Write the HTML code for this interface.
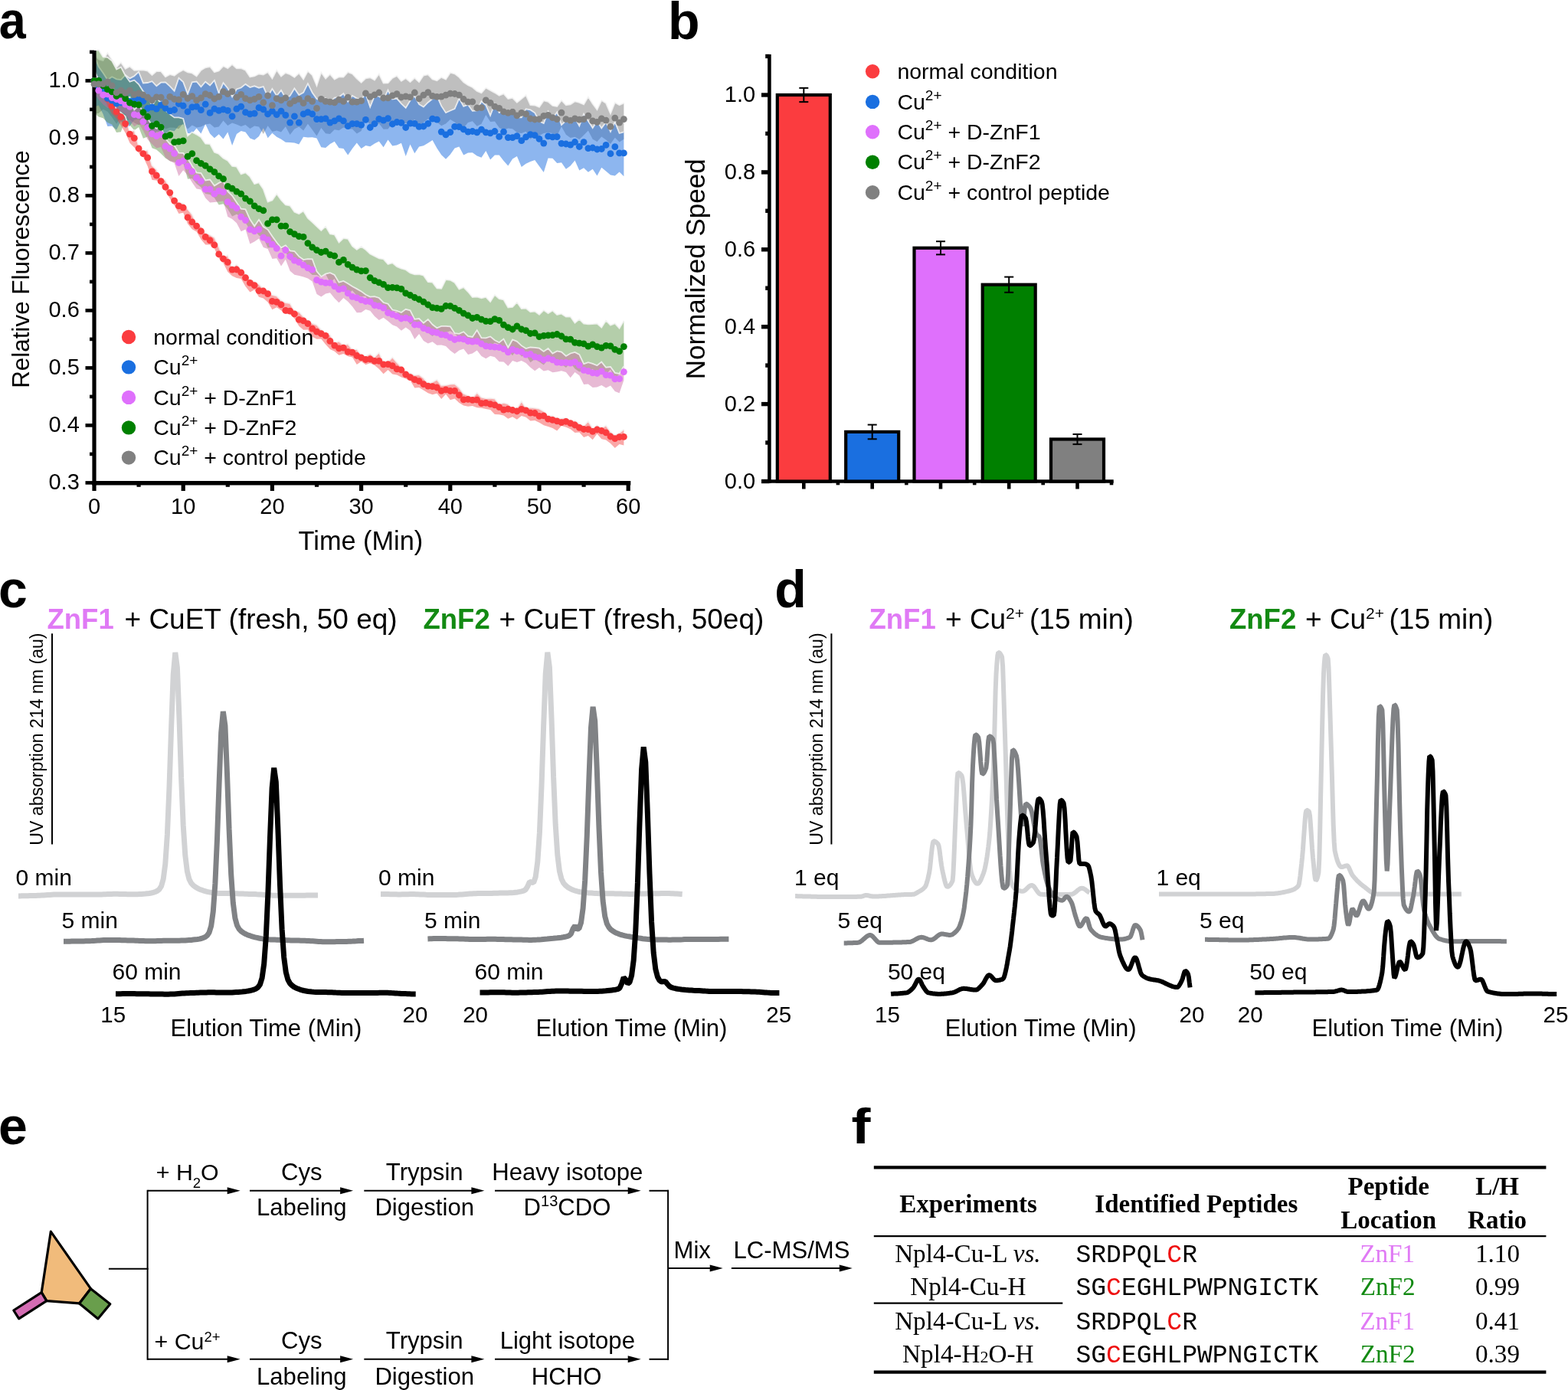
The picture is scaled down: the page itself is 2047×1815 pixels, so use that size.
<!DOCTYPE html>
<html><head><meta charset="utf-8"><title>Figure</title>
<style>html,body{margin:0;padding:0;background:#fff;overflow:hidden}svg{display:block}</style></head>
<body><svg width="2047" height="1815" viewBox="0 0 2047 1815">
<rect width="2047" height="1815" fill="#fff"/>
<text x="-1.3" y="50.4" font-size="68" text-anchor="start" font-weight="bold" fill="#000" font-family="'Liberation Sans', Arial, Helvetica, sans-serif" textLength="35" lengthAdjust="spacingAndGlyphs">a</text>
<text x="872" y="50.6" font-size="68" text-anchor="start" font-weight="bold" fill="#000" font-family="'Liberation Sans', Arial, Helvetica, sans-serif" >b</text>
<text x="-2" y="792.6" font-size="68" text-anchor="start" font-weight="bold" fill="#000" font-family="'Liberation Sans', Arial, Helvetica, sans-serif" >c</text>
<text x="1011.2" y="792.6" font-size="68" text-anchor="start" font-weight="bold" fill="#000" font-family="'Liberation Sans', Arial, Helvetica, sans-serif" >d</text>
<text x="-2" y="1494.4" font-size="68" text-anchor="start" font-weight="bold" fill="#000" font-family="'Liberation Sans', Arial, Helvetica, sans-serif" >e</text>
<text x="1111.5" y="1492.8" font-size="64" text-anchor="start" font-weight="bold" fill="#000" font-family="'Liberation Sans', Arial, Helvetica, sans-serif" textLength="25" lengthAdjust="spacingAndGlyphs">f</text>
<g>
<polygon points="123,71.8 128.8,77.4 134.6,79.2 140.4,68.9 146.2,78 152.1,87.7 157.9,81.5 163.7,89.8 169.5,86.7 175.3,91.8 181.1,91.6 186.9,91.4 192.7,92.6 198.5,98 204.3,93.1 210.1,93.2 216,100.4 221.8,97.1 227.6,98.7 233.4,94.4 239.2,91.2 245,94.3 250.8,95.4 256.6,99.5 262.4,91.7 268.2,88.3 274.1,87 279.9,94.3 285.7,92.5 291.5,86.3 297.3,89.1 303.1,84.1 308.9,89.4 314.7,89.1 320.5,91.8 326.4,100.6 332.2,99.5 338,96.5 343.8,97.6 349.6,94.3 355.4,102.5 361.2,91.5 367,99.7 372.8,95.1 378.6,97.2 384.4,100.9 390.3,95.5 396.1,103.6 401.9,92.9 407.7,98.2 413.5,112 419.3,94.5 425.1,102.6 430.9,96.8 436.7,103.7 442.5,100.5 448.4,100.7 454.2,94.1 460,96.5 465.8,102.6 471.6,107.8 477.4,102.3 483.2,101.3 489,104.5 494.8,96.5 500.6,108.5 506.5,108.4 512.3,102 518.1,98.9 523.9,105.9 529.7,102.3 535.5,107.1 541.3,101.8 547.1,107.2 552.9,98.6 558.8,97.3 564.6,103.5 570.4,105.3 576.2,100.9 582,103.7 587.8,94.9 593.6,96.4 599.4,100.9 605.2,107.2 611,111.2 616.8,114 622.7,118.9 628.5,121.3 634.3,114.7 640.1,117.9 645.9,121.1 651.7,124.8 657.5,122.3 663.3,129.1 669.1,127.8 674.9,133.7 680.8,129.1 686.6,124.3 692.4,137.1 698.2,137.5 704,139.9 709.8,131.4 715.6,132.8 721.4,137.9 727.2,139.1 733,131 738.9,137.2 744.7,136.3 750.5,132.4 756.3,133.9 762.1,136.4 767.9,126.5 773.7,135.6 779.5,143.3 785.3,131 791.1,134.8 797,148.4 802.8,133.9 808.6,137.2 814.4,134.6 814.4,181.7 808.6,185.6 802.8,179.7 797,188.1 791.1,182.5 785.3,178.4 779.5,185 773.7,181.7 767.9,170.5 762.1,176.6 756.3,182 750.5,178.8 744.7,180.1 738.9,175.7 733,165.3 727.2,177.2 721.4,174.1 715.6,172.9 709.8,173.9 704,177.1 698.2,177.2 692.4,181.7 686.6,171.7 680.8,173.9 674.9,172.9 669.1,168.3 663.3,167.6 657.5,169.9 651.7,166.8 645.9,158.6 640.1,159 634.3,150.1 628.5,161.8 622.7,164.7 616.8,158.3 611,160 605.2,167.1 599.4,164.7 593.6,159.4 587.8,156.1 582,161.4 576.2,164.2 570.4,159.5 564.6,158.5 558.8,155.2 552.9,159.8 547.1,164.6 541.3,155.8 535.5,161.3 529.7,160.9 523.9,161.2 518.1,163.9 512.3,160.8 506.5,168.5 500.6,168.7 494.8,161.2 489,165.4 483.2,163.1 477.4,155.4 471.6,171 465.8,174.4 460,168.5 454.2,168.4 448.4,166.6 442.5,170.2 436.7,169.3 430.9,174.9 425.1,174.3 419.3,167 413.5,177.4 407.7,169.4 401.9,161.8 396.1,170.5 390.3,165.5 384.4,168.5 378.6,175.9 372.8,165.3 367,172.5 361.2,170.4 355.4,171.9 349.6,164.3 343.8,175 338,165.4 332.2,164.6 326.4,167.9 320.5,162.9 314.7,164.9 308.9,162.5 303.1,160.5 297.3,164.1 291.5,157.4 285.7,165.6 279.9,166.6 274.1,161.5 268.2,162.5 262.4,165.5 256.6,166.4 250.8,163.6 245,168.6 239.2,161.1 233.4,168.2 227.6,166.7 221.8,166.6 216,168.3 210.1,160.3 204.3,164.6 198.5,172.3 192.7,168.3 186.9,161 181.1,163.2 175.3,160.2 169.5,156.4 163.7,157 157.9,153 152.1,161.7 146.2,153.3 140.4,145.7 134.6,142.7 128.8,147.7 123,148.8" fill="#808080" fill-opacity="0.5"/>
<polyline points="123,71.8 128.8,77.4 134.6,79.2 140.4,68.9 146.2,78 152.1,87.7 157.9,81.5 163.7,89.8 169.5,86.7 175.3,91.8 181.1,91.6 186.9,91.4 192.7,92.6 198.5,98 204.3,93.1 210.1,93.2 216,100.4 221.8,97.1 227.6,98.7 233.4,94.4 239.2,91.2 245,94.3 250.8,95.4 256.6,99.5 262.4,91.7 268.2,88.3 274.1,87 279.9,94.3 285.7,92.5 291.5,86.3 297.3,89.1 303.1,84.1 308.9,89.4 314.7,89.1 320.5,91.8 326.4,100.6 332.2,99.5 338,96.5 343.8,97.6 349.6,94.3 355.4,102.5 361.2,91.5 367,99.7 372.8,95.1 378.6,97.2 384.4,100.9 390.3,95.5 396.1,103.6 401.9,92.9 407.7,98.2 413.5,112 419.3,94.5 425.1,102.6 430.9,96.8 436.7,103.7 442.5,100.5 448.4,100.7 454.2,94.1 460,96.5 465.8,102.6 471.6,107.8 477.4,102.3 483.2,101.3 489,104.5 494.8,96.5 500.6,108.5 506.5,108.4 512.3,102 518.1,98.9 523.9,105.9 529.7,102.3 535.5,107.1 541.3,101.8 547.1,107.2 552.9,98.6 558.8,97.3 564.6,103.5 570.4,105.3 576.2,100.9 582,103.7 587.8,94.9 593.6,96.4 599.4,100.9 605.2,107.2 611,111.2 616.8,114 622.7,118.9 628.5,121.3 634.3,114.7 640.1,117.9 645.9,121.1 651.7,124.8 657.5,122.3 663.3,129.1 669.1,127.8 674.9,133.7 680.8,129.1 686.6,124.3 692.4,137.1 698.2,137.5 704,139.9 709.8,131.4 715.6,132.8 721.4,137.9 727.2,139.1 733,131 738.9,137.2 744.7,136.3 750.5,132.4 756.3,133.9 762.1,136.4 767.9,126.5 773.7,135.6 779.5,143.3 785.3,131 791.1,134.8 797,148.4 802.8,133.9 808.6,137.2 814.4,134.6" fill="none" stroke="#f4f4f4" stroke-opacity="0.85" stroke-width="1.8"/>
<polygon points="123,72.7 128.8,87 134.6,95.2 140.4,104.3 146.2,100.3 152.1,103.3 157.9,104.1 163.7,97.9 169.5,102.4 175.3,99.2 181.1,93.9 186.9,108.5 192.7,108 198.5,106.2 204.3,112.3 210.1,107.7 216,107.4 221.8,112.7 227.6,118.8 233.4,101.8 239.2,107.1 245,122.5 250.8,107.3 256.6,106.5 262.4,113.4 268.2,106.7 274.1,111.5 279.9,105 285.7,121.6 291.5,108.1 297.3,115.2 303.1,126.3 308.9,116.5 314.7,114.5 320.5,109.9 326.4,114.1 332.2,112.3 338,114.7 343.8,113.1 349.6,126.3 355.4,115.9 361.2,125 367,117.9 372.8,127.9 378.6,125.1 384.4,115.5 390.3,124.1 396.1,120.8 401.9,109.2 407.7,121 413.5,129 419.3,131.6 425.1,128.1 430.9,133.9 436.7,127.7 442.5,126.8 448.4,122.1 454.2,132.7 460,125 465.8,128.4 471.6,129.7 477.4,122.6 483.2,139.7 489,125.2 494.8,125.7 500.6,130.2 506.5,117.5 512.3,129.6 518.1,128.6 523.9,135.4 529.7,140.9 535.5,131.2 541.3,125.3 547.1,136.2 552.9,139.6 558.8,133.7 564.6,129.1 570.4,125.2 576.2,138.4 582,147.2 587.8,144.5 593.6,142 599.4,128.6 605.2,138.9 611,136.7 616.8,144.9 622.7,144.4 628.5,132.3 634.3,137.2 640.1,150.8 645.9,135.5 651.7,147.1 657.5,143.8 663.3,144.8 669.1,142.7 674.9,153.4 680.8,153.4 686.6,142.3 692.4,143.4 698.2,147.3 704,158.3 709.8,161.1 715.6,145.6 721.4,154.5 727.2,146.5 733,163.1 738.9,157.7 744.7,160.9 750.5,153.9 756.3,164.4 762.1,148.8 767.9,157.9 773.7,167 779.5,158.1 785.3,167.4 791.1,159.4 797,171.8 802.8,159.1 808.6,174 814.4,172.3 814.4,230.2 808.6,224.4 802.8,229.5 797,228.5 791.1,223.5 785.3,218.8 779.5,229.6 773.7,220.7 767.9,224.8 762.1,219.3 756.3,222.4 750.5,209.6 744.7,216.6 738.9,220.8 733,212.3 727.2,213 721.4,206.7 715.6,206.4 709.8,224.9 704,217.1 698.2,208.9 692.4,211.1 686.6,213.7 680.8,217.9 674.9,203.9 669.1,207.5 663.3,216.5 657.5,210.1 651.7,202.4 645.9,202.6 640.1,208.5 634.3,197.1 628.5,205.8 622.7,203.6 616.8,199.2 611,199.4 605.2,202.4 599.4,191.5 593.6,193.6 587.8,201.7 582,207.8 576.2,202.3 570.4,193.5 564.6,183.1 558.8,186.7 552.9,190.3 547.1,191.5 541.3,200.3 535.5,188.4 529.7,204.1 523.9,186.8 518.1,189.4 512.3,190.5 506.5,182.5 500.6,192.3 494.8,184.5 489,187.6 483.2,191.2 477.4,190.1 471.6,193.9 465.8,186.4 460,193.9 454.2,202.4 448.4,194.1 442.5,193.2 436.7,184.7 430.9,188.1 425.1,192.9 419.3,192.2 413.5,180.4 407.7,179.3 401.9,179.5 396.1,178.8 390.3,188.5 384.4,186.6 378.6,186 372.8,185.7 367,181.8 361.2,178.8 355.4,173.7 349.6,180.3 343.8,167.3 338,178.1 332.2,182.7 326.4,180.5 320.5,172.6 314.7,171 308.9,174.9 303.1,190.1 297.3,172.4 291.5,181.4 285.7,175.3 279.9,180.2 274.1,174.4 268.2,161.9 262.4,174.6 256.6,167.5 250.8,174.3 245,173.9 239.2,162.3 233.4,164 227.6,171.3 221.8,170 216,174.7 210.1,171.7 204.3,171.9 198.5,178.5 192.7,168.6 186.9,160.1 181.1,155.2 175.3,156.6 169.5,164.4 163.7,167.6 157.9,157.9 152.1,169.4 146.2,164.6 140.4,164.9 134.6,149.1 128.8,137.4 123,139.8" fill="#1c6ee0" fill-opacity="0.5"/>
<polyline points="123,72.7 128.8,87 134.6,95.2 140.4,104.3 146.2,100.3 152.1,103.3 157.9,104.1 163.7,97.9 169.5,102.4 175.3,99.2 181.1,93.9 186.9,108.5 192.7,108 198.5,106.2 204.3,112.3 210.1,107.7 216,107.4 221.8,112.7 227.6,118.8 233.4,101.8 239.2,107.1 245,122.5 250.8,107.3 256.6,106.5 262.4,113.4 268.2,106.7 274.1,111.5 279.9,105 285.7,121.6 291.5,108.1 297.3,115.2 303.1,126.3 308.9,116.5 314.7,114.5 320.5,109.9 326.4,114.1 332.2,112.3 338,114.7 343.8,113.1 349.6,126.3 355.4,115.9 361.2,125 367,117.9 372.8,127.9 378.6,125.1 384.4,115.5 390.3,124.1 396.1,120.8 401.9,109.2 407.7,121 413.5,129 419.3,131.6 425.1,128.1 430.9,133.9 436.7,127.7 442.5,126.8 448.4,122.1 454.2,132.7 460,125 465.8,128.4 471.6,129.7 477.4,122.6 483.2,139.7 489,125.2 494.8,125.7 500.6,130.2 506.5,117.5 512.3,129.6 518.1,128.6 523.9,135.4 529.7,140.9 535.5,131.2 541.3,125.3 547.1,136.2 552.9,139.6 558.8,133.7 564.6,129.1 570.4,125.2 576.2,138.4 582,147.2 587.8,144.5 593.6,142 599.4,128.6 605.2,138.9 611,136.7 616.8,144.9 622.7,144.4 628.5,132.3 634.3,137.2 640.1,150.8 645.9,135.5 651.7,147.1 657.5,143.8 663.3,144.8 669.1,142.7 674.9,153.4 680.8,153.4 686.6,142.3 692.4,143.4 698.2,147.3 704,158.3 709.8,161.1 715.6,145.6 721.4,154.5 727.2,146.5 733,163.1 738.9,157.7 744.7,160.9 750.5,153.9 756.3,164.4 762.1,148.8 767.9,157.9 773.7,167 779.5,158.1 785.3,167.4 791.1,159.4 797,171.8 802.8,159.1 808.6,174 814.4,172.3" fill="none" stroke="#f4f4f4" stroke-opacity="0.85" stroke-width="1.8"/>
<polygon points="123,66.3 128.8,65.2 134.6,74.3 140.4,74.9 146.2,79.5 152.1,90.5 157.9,87.6 163.7,98.7 169.5,106.7 175.3,104.7 181.1,110.1 186.9,119.2 192.7,125.7 198.5,138.2 204.3,128.4 210.1,134.1 216,144.2 221.8,149.1 227.6,153.4 233.4,153.3 239.2,155 245,177.4 250.8,172.6 256.6,175.6 262.4,179.2 268.2,187.7 274.1,188 279.9,198.7 285.7,201 291.5,206.4 297.3,209.8 303.1,216.9 308.9,217.7 314.7,227.3 320.5,225.4 326.4,230.7 332.2,240.3 338,238.5 343.8,247 349.6,263.6 355.4,261.4 361.2,253.2 367,261.2 372.8,267.5 378.6,268.5 384.4,276.7 390.3,279.3 396.1,275.5 401.9,284.9 407.7,290 413.5,295.7 419.3,301.1 425.1,295.6 430.9,305.4 436.7,306.4 442.5,316.6 448.4,311 454.2,311.9 460,321.3 465.8,325.8 471.6,321.9 477.4,326 483.2,331.6 489,334.4 494.8,337.4 500.6,338.3 506.5,345 512.3,343.3 518.1,348.1 523.9,350.6 529.7,352.2 535.5,356.4 541.3,358.4 547.1,358.2 552.9,359.7 558.8,368.2 564.6,368.6 570.4,376.4 576.2,376.8 582,365.2 587.8,365.8 593.6,369 599.4,377.6 605.2,375.1 611,381 616.8,388.1 622.7,387.6 628.5,389.3 634.3,387.9 640.1,394 645.9,385 651.7,390.1 657.5,391.5 663.3,401.6 669.1,401 674.9,394.7 680.8,403 686.6,402.5 692.4,407.2 698.2,406.5 704,410.8 709.8,405.1 715.6,409.1 721.4,405.6 727.2,411 733,409.7 738.9,413.7 744.7,413.6 750.5,421.7 756.3,416.9 762.1,422.6 767.9,423.4 773.7,423.1 779.5,422.5 785.3,427.7 791.1,418.6 797,424.6 802.8,422.3 808.6,428.8 814.4,418.8 814.4,485.4 808.6,488.4 802.8,494.3 797,482.3 791.1,489.3 785.3,487.8 779.5,490.2 773.7,481.7 767.9,486 762.1,483.7 756.3,485.6 750.5,481.5 744.7,473.9 738.9,480.1 733,475.6 727.2,473.9 721.4,468.7 715.6,468.9 709.8,476.6 704,472.5 698.2,469.1 692.4,473.3 686.6,463.4 680.8,465.5 674.9,456 669.1,464.2 663.3,457.8 657.5,458.3 651.7,449.5 645.9,447.6 640.1,451.8 634.3,450.4 628.5,451.7 622.7,445.5 616.8,448.1 611,446.7 605.2,439.4 599.4,441.6 593.6,435.6 587.8,432.3 582,434 576.2,434.3 570.4,434.2 564.6,439.1 558.8,434.6 552.9,424.3 547.1,426.1 541.3,419.8 535.5,423.7 529.7,415.1 523.9,414.6 518.1,407.3 512.3,406.4 506.5,408.3 500.6,403.3 494.8,399.2 489,403.5 483.2,398 477.4,386.7 471.6,387.1 465.8,385.9 460,379.2 454.2,383.5 448.4,377.5 442.5,376.6 436.7,364 430.9,368.7 425.1,358.1 419.3,362 413.5,358.9 407.7,359.1 401.9,353.5 396.1,340.3 390.3,342.3 384.4,337.2 378.6,340.5 372.8,328.7 367,324.6 361.2,321.9 355.4,323 349.6,323.6 343.8,310.6 338,307.5 332.2,300.6 326.4,300.2 320.5,290.7 314.7,283 308.9,279.8 303.1,282.6 297.3,272.9 291.5,266.2 285.7,267.4 279.9,258.2 274.1,254 268.2,253 262.4,244.5 256.6,240 250.8,233.1 245,233.7 239.2,212.4 233.4,213.7 227.6,211.4 221.8,210.2 216,206.5 210.1,200.6 204.3,195.5 198.5,193.3 192.7,178.4 186.9,180.8 181.1,165.9 175.3,170.3 169.5,163.4 163.7,155.8 157.9,172.3 152.1,172.9 146.2,162.5 140.4,160 134.6,154.2 128.8,152.6 123,147.7" fill="#4d8a35" fill-opacity="0.42"/>
<polyline points="123,66.3 128.8,65.2 134.6,74.3 140.4,74.9 146.2,79.5 152.1,90.5 157.9,87.6 163.7,98.7 169.5,106.7 175.3,104.7 181.1,110.1 186.9,119.2 192.7,125.7 198.5,138.2 204.3,128.4 210.1,134.1 216,144.2 221.8,149.1 227.6,153.4 233.4,153.3 239.2,155 245,177.4 250.8,172.6 256.6,175.6 262.4,179.2 268.2,187.7 274.1,188 279.9,198.7 285.7,201 291.5,206.4 297.3,209.8 303.1,216.9 308.9,217.7 314.7,227.3 320.5,225.4 326.4,230.7 332.2,240.3 338,238.5 343.8,247 349.6,263.6 355.4,261.4 361.2,253.2 367,261.2 372.8,267.5 378.6,268.5 384.4,276.7 390.3,279.3 396.1,275.5 401.9,284.9 407.7,290 413.5,295.7 419.3,301.1 425.1,295.6 430.9,305.4 436.7,306.4 442.5,316.6 448.4,311 454.2,311.9 460,321.3 465.8,325.8 471.6,321.9 477.4,326 483.2,331.6 489,334.4 494.8,337.4 500.6,338.3 506.5,345 512.3,343.3 518.1,348.1 523.9,350.6 529.7,352.2 535.5,356.4 541.3,358.4 547.1,358.2 552.9,359.7 558.8,368.2 564.6,368.6 570.4,376.4 576.2,376.8 582,365.2 587.8,365.8 593.6,369 599.4,377.6 605.2,375.1 611,381 616.8,388.1 622.7,387.6 628.5,389.3 634.3,387.9 640.1,394 645.9,385 651.7,390.1 657.5,391.5 663.3,401.6 669.1,401 674.9,394.7 680.8,403 686.6,402.5 692.4,407.2 698.2,406.5 704,410.8 709.8,405.1 715.6,409.1 721.4,405.6 727.2,411 733,409.7 738.9,413.7 744.7,413.6 750.5,421.7 756.3,416.9 762.1,422.6 767.9,423.4 773.7,423.1 779.5,422.5 785.3,427.7 791.1,418.6 797,424.6 802.8,422.3 808.6,428.8 814.4,418.8" fill="none" stroke="#f4f4f4" stroke-opacity="0.85" stroke-width="1.8"/>
<polygon points="123,91.3 128.8,104.7 134.6,110.9 140.4,113.3 146.2,114.1 152.1,121.7 157.9,121.3 163.7,129.2 169.5,126.7 175.3,143.3 181.1,137.8 186.9,145.3 192.7,155.1 198.5,163.2 204.3,167.8 210.1,165.7 216,181 221.8,187.9 227.6,190 233.4,199.7 239.2,199.9 245,206.9 250.8,216.7 256.6,225.3 262.4,226.1 268.2,235.4 274.1,234.5 279.9,242.5 285.7,238.9 291.5,236.3 297.3,249.9 303.1,255.6 308.9,264.2 314.7,272.7 320.5,273.4 326.4,286.6 332.2,295.3 338,286.8 343.8,296.1 349.6,299.8 355.4,308.6 361.2,316.5 367,323.6 372.8,320.3 378.6,327.4 384.4,328 390.3,334.9 396.1,339.1 401.9,338.2 407.7,338.3 413.5,354.4 419.3,361.2 425.1,357.7 430.9,356.2 436.7,359 442.5,368.7 448.4,366.9 454.2,370.2 460,374 465.8,377.1 471.6,380.4 477.4,384.7 483.2,387.6 489,387.1 494.8,389 500.6,395 506.5,396.7 512.3,404.5 518.1,405.9 523.9,408 529.7,403.8 535.5,405.3 541.3,416.8 547.1,416 552.9,421.8 558.8,417 564.6,423.8 570.4,428.3 576.2,425.8 582,425.8 587.8,426.3 593.6,435.2 599.4,435.8 605.2,433.2 611,439 616.8,440 622.7,431.1 628.5,441.2 634.3,441.3 640.1,439.4 645.9,444.3 651.7,447.2 657.5,442.6 663.3,453.8 669.1,443.5 674.9,445.8 680.8,451.4 686.6,455.1 692.4,453.5 698.2,453.8 704,454.7 709.8,459 715.6,454.9 721.4,461.5 727.2,458.4 733,459.7 738.9,465 744.7,461.5 750.5,460 756.3,462.9 762.1,475.2 767.9,473.1 773.7,474.8 779.5,477.3 785.3,472.6 791.1,479.7 797,479 802.8,486.9 808.6,487.9 814.4,478.3 814.4,496.4 808.6,513.3 802.8,510.9 797,503.4 791.1,506.6 785.3,503.1 779.5,505.6 773.7,506.1 767.9,501.5 762.1,502.1 756.3,490.3 750.5,486.1 744.7,493.2 738.9,485.9 733,484.2 727.2,485.5 721.4,486.2 715.6,483.2 709.8,484.5 704,480 698.2,484.2 692.4,479.7 686.6,474 680.8,470.9 674.9,473 669.1,470.9 663.3,477.9 657.5,472.6 651.7,472.2 645.9,466.3 640.1,464.8 634.3,468.2 628.5,464.9 622.7,457.4 616.8,461.6 611,463 605.2,455.5 599.4,457.5 593.6,462.1 587.8,457.8 582,452.1 576.2,450.6 570.4,450.7 564.6,446.3 558.8,448.4 552.9,444.9 547.1,436 541.3,442.9 535.5,431.7 529.7,427.4 523.9,431.7 518.1,426.6 512.3,424.3 506.5,419.2 500.6,414.7 494.8,418.1 489,413 483.2,405.8 477.4,404 471.6,408.1 465.8,408.3 460,400.2 454.2,393.8 448.4,389 442.5,395.3 436.7,389.6 430.9,382.3 425.1,383.4 419.3,387.6 413.5,384.1 407.7,367.6 401.9,363.6 396.1,361.4 390.3,360 384.4,358.7 378.6,353.8 372.8,338.8 367,347.5 361.2,337.3 355.4,337.9 349.6,324.9 343.8,323.1 338,311.6 332.2,315.5 326.4,318.5 320.5,299.6 314.7,302.3 308.9,291.2 303.1,286 297.3,283.1 291.5,262.6 285.7,263.3 279.9,264.1 274.1,264.6 268.2,258.4 262.4,247.5 256.6,246.6 250.8,238.3 245,228.6 239.2,222.2 233.4,230 227.6,213 221.8,210.2 216,205.5 210.1,192 204.3,193.4 198.5,188.1 192.7,181.9 186.9,170.4 181.1,161.5 175.3,165.2 169.5,157.8 163.7,149 157.9,145.9 152.1,143.8 146.2,139.7 140.4,141.1 134.6,136.5 128.8,130.1 123,121.5" fill="#c9659f" fill-opacity="0.45"/>
<polyline points="123,91.3 128.8,104.7 134.6,110.9 140.4,113.3 146.2,114.1 152.1,121.7 157.9,121.3 163.7,129.2 169.5,126.7 175.3,143.3 181.1,137.8 186.9,145.3 192.7,155.1 198.5,163.2 204.3,167.8 210.1,165.7 216,181 221.8,187.9 227.6,190 233.4,199.7 239.2,199.9 245,206.9 250.8,216.7 256.6,225.3 262.4,226.1 268.2,235.4 274.1,234.5 279.9,242.5 285.7,238.9 291.5,236.3 297.3,249.9 303.1,255.6 308.9,264.2 314.7,272.7 320.5,273.4 326.4,286.6 332.2,295.3 338,286.8 343.8,296.1 349.6,299.8 355.4,308.6 361.2,316.5 367,323.6 372.8,320.3 378.6,327.4 384.4,328 390.3,334.9 396.1,339.1 401.9,338.2 407.7,338.3 413.5,354.4 419.3,361.2 425.1,357.7 430.9,356.2 436.7,359 442.5,368.7 448.4,366.9 454.2,370.2 460,374 465.8,377.1 471.6,380.4 477.4,384.7 483.2,387.6 489,387.1 494.8,389 500.6,395 506.5,396.7 512.3,404.5 518.1,405.9 523.9,408 529.7,403.8 535.5,405.3 541.3,416.8 547.1,416 552.9,421.8 558.8,417 564.6,423.8 570.4,428.3 576.2,425.8 582,425.8 587.8,426.3 593.6,435.2 599.4,435.8 605.2,433.2 611,439 616.8,440 622.7,431.1 628.5,441.2 634.3,441.3 640.1,439.4 645.9,444.3 651.7,447.2 657.5,442.6 663.3,453.8 669.1,443.5 674.9,445.8 680.8,451.4 686.6,455.1 692.4,453.5 698.2,453.8 704,454.7 709.8,459 715.6,454.9 721.4,461.5 727.2,458.4 733,459.7 738.9,465 744.7,461.5 750.5,460 756.3,462.9 762.1,475.2 767.9,473.1 773.7,474.8 779.5,477.3 785.3,472.6 791.1,479.7 797,479 802.8,486.9 808.6,487.9 814.4,478.3" fill="none" stroke="#f4f4f4" stroke-opacity="0.85" stroke-width="1.8"/>
<polygon points="123,102.2 128.8,103.8 134.6,114.1 140.4,120.7 146.2,129.9 152.1,143 157.9,147.1 163.7,152 169.5,172.3 175.3,169.9 181.1,190.7 186.9,197.4 192.7,196 198.5,215.9 204.3,221.2 210.1,233.5 216,235.1 221.8,246.5 227.6,259.7 233.4,264.1 239.2,265.6 245,273 250.8,280 256.6,292.6 262.4,295.7 268.2,304 274.1,306.8 279.9,309.9 285.7,322.3 291.5,335.6 297.3,333.3 303.1,349.9 308.9,345.3 314.7,351.9 320.5,357.3 326.4,364.8 332.2,367.8 338,371 343.8,376.8 349.6,380.7 355.4,384.9 361.2,386.4 367,392 372.8,395.1 378.6,396 384.4,405.8 390.3,407 396.1,413.3 401.9,418.3 407.7,422.1 413.5,424.1 419.3,430.3 425.1,434.8 430.9,437.2 436.7,447.4 442.5,445.6 448.4,450.8 454.2,449.1 460,456.2 465.8,455.9 471.6,463.3 477.4,465 483.2,462.1 489,466.2 494.8,460.4 500.6,472.7 506.5,472.6 512.3,466.5 518.1,473.1 523.9,479 529.7,485.6 535.5,486.9 541.3,489.9 547.1,489.2 552.9,493.6 558.8,500.6 564.6,498.8 570.4,495.6 576.2,503 582,502.8 587.8,501.7 593.6,501.2 599.4,506.1 605.2,513.8 611,516.3 616.8,519.2 622.7,512.8 628.5,518.8 634.3,520.1 640.1,519.8 645.9,520.5 651.7,527.7 657.5,525.9 663.3,527.5 669.1,533 674.9,533.3 680.8,523.7 686.6,532.7 692.4,532 698.2,532.7 704,533.7 709.8,537 715.6,543.1 721.4,542.6 727.2,546.5 733,546.1 738.9,545.7 744.7,550.3 750.5,549 756.3,553 762.1,556.2 767.9,549.9 773.7,559.1 779.5,555.2 785.3,559.1 791.1,555.4 797,563.6 802.8,568.3 808.6,565.2 814.4,560.8 814.4,581.5 808.6,580.1 802.8,585 797,578.9 791.1,574.4 785.3,573.2 779.5,566.6 773.7,574.3 767.9,569.1 762.1,570.9 756.3,564.5 750.5,565.1 744.7,560.2 738.9,557.7 733,555.9 727.2,562.5 721.4,559 715.6,557.1 709.8,555.2 704,551.8 698.2,549 692.4,549.4 686.6,544.8 680.8,542.9 674.9,547.8 669.1,544.2 663.3,546.7 657.5,542.4 651.7,541.3 645.9,540.9 640.1,535.1 634.3,534 628.5,532.7 622.7,532.3 616.8,529.9 611,530.8 605.2,529.6 599.4,525.9 593.6,520.5 587.8,522.2 582,514.7 576.2,520.9 570.4,513.7 564.6,515.2 558.8,513.3 552.9,509.5 547.1,505.9 541.3,506.6 535.5,496.7 529.7,494.4 523.9,492.5 518.1,489.6 512.3,488.5 506.5,482.9 500.6,488.2 494.8,481.8 489,476.9 483.2,474.2 477.4,476.2 471.6,472.1 465.8,475.9 460,466.6 454.2,465.2 448.4,462.1 442.5,463.7 436.7,458.8 430.9,455.9 425.1,449.7 419.3,442.4 413.5,442.7 407.7,439.7 401.9,430.5 396.1,430.7 390.3,425.7 384.4,416 378.6,410.2 372.8,409.9 367,405.2 361.2,401.2 355.4,404.2 349.6,394.5 343.8,389.5 338,387.8 332.2,378.3 326.4,381.6 320.5,373.9 314.7,364 308.9,362.9 303.1,360.3 297.3,355 291.5,343.5 285.7,337.2 279.9,324.5 274.1,319.6 268.2,319.5 262.4,312.6 256.6,302.6 250.8,299.2 245,292.2 239.2,277.8 233.4,279.1 227.6,268.2 221.8,259.2 216,249.7 210.1,241.3 204.3,235.5 198.5,235.1 192.7,217 186.9,204.7 181.1,199.5 175.3,192.6 169.5,186.7 163.7,173.4 157.9,163.8 152.1,154.9 146.2,148.8 140.4,138.6 134.6,120.8 128.8,114.2 123,117.5" fill="#f43c3c" fill-opacity="0.45"/>
<polyline points="123,102.2 128.8,103.8 134.6,114.1 140.4,120.7 146.2,129.9 152.1,143 157.9,147.1 163.7,152 169.5,172.3 175.3,169.9 181.1,190.7 186.9,197.4 192.7,196 198.5,215.9 204.3,221.2 210.1,233.5 216,235.1 221.8,246.5 227.6,259.7 233.4,264.1 239.2,265.6 245,273 250.8,280 256.6,292.6 262.4,295.7 268.2,304 274.1,306.8 279.9,309.9 285.7,322.3 291.5,335.6 297.3,333.3 303.1,349.9 308.9,345.3 314.7,351.9 320.5,357.3 326.4,364.8 332.2,367.8 338,371 343.8,376.8 349.6,380.7 355.4,384.9 361.2,386.4 367,392 372.8,395.1 378.6,396 384.4,405.8 390.3,407 396.1,413.3 401.9,418.3 407.7,422.1 413.5,424.1 419.3,430.3 425.1,434.8 430.9,437.2 436.7,447.4 442.5,445.6 448.4,450.8 454.2,449.1 460,456.2 465.8,455.9 471.6,463.3 477.4,465 483.2,462.1 489,466.2 494.8,460.4 500.6,472.7 506.5,472.6 512.3,466.5 518.1,473.1 523.9,479 529.7,485.6 535.5,486.9 541.3,489.9 547.1,489.2 552.9,493.6 558.8,500.6 564.6,498.8 570.4,495.6 576.2,503 582,502.8 587.8,501.7 593.6,501.2 599.4,506.1 605.2,513.8 611,516.3 616.8,519.2 622.7,512.8 628.5,518.8 634.3,520.1 640.1,519.8 645.9,520.5 651.7,527.7 657.5,525.9 663.3,527.5 669.1,533 674.9,533.3 680.8,523.7 686.6,532.7 692.4,532 698.2,532.7 704,533.7 709.8,537 715.6,543.1 721.4,542.6 727.2,546.5 733,546.1 738.9,545.7 744.7,550.3 750.5,549 756.3,553 762.1,556.2 767.9,549.9 773.7,559.1 779.5,555.2 785.3,559.1 791.1,555.4 797,563.6 802.8,568.3 808.6,565.2 814.4,560.8" fill="none" stroke="#f4f4f4" stroke-opacity="0.85" stroke-width="1.8"/>
</g>
<line x1="123" y1="66" x2="123" y2="633.5" stroke="#000" stroke-width="5.2" stroke-linecap="butt"/>
<line x1="120.4" y1="630.7" x2="823.3" y2="630.7" stroke="#000" stroke-width="5.4" stroke-linecap="butt"/>
<line x1="111.5" y1="630.4" x2="123" y2="630.4" stroke="#000" stroke-width="4.6" stroke-linecap="butt"/>
<text x="103.8" y="639" font-size="29" text-anchor="end" font-weight="normal" fill="#000" font-family="'Liberation Sans', Arial, Helvetica, sans-serif" >0.3</text>
<line x1="111.5" y1="555.4" x2="123" y2="555.4" stroke="#000" stroke-width="4.6" stroke-linecap="butt"/>
<text x="103.8" y="564" font-size="29" text-anchor="end" font-weight="normal" fill="#000" font-family="'Liberation Sans', Arial, Helvetica, sans-serif" >0.4</text>
<line x1="111.5" y1="480.4" x2="123" y2="480.4" stroke="#000" stroke-width="4.6" stroke-linecap="butt"/>
<text x="103.8" y="489" font-size="29" text-anchor="end" font-weight="normal" fill="#000" font-family="'Liberation Sans', Arial, Helvetica, sans-serif" >0.5</text>
<line x1="111.5" y1="405.4" x2="123" y2="405.4" stroke="#000" stroke-width="4.6" stroke-linecap="butt"/>
<text x="103.8" y="414" font-size="29" text-anchor="end" font-weight="normal" fill="#000" font-family="'Liberation Sans', Arial, Helvetica, sans-serif" >0.6</text>
<line x1="111.5" y1="330.4" x2="123" y2="330.4" stroke="#000" stroke-width="4.6" stroke-linecap="butt"/>
<text x="103.8" y="339" font-size="29" text-anchor="end" font-weight="normal" fill="#000" font-family="'Liberation Sans', Arial, Helvetica, sans-serif" >0.7</text>
<line x1="111.5" y1="255.4" x2="123" y2="255.4" stroke="#000" stroke-width="4.6" stroke-linecap="butt"/>
<text x="103.8" y="264" font-size="29" text-anchor="end" font-weight="normal" fill="#000" font-family="'Liberation Sans', Arial, Helvetica, sans-serif" >0.8</text>
<line x1="111.5" y1="180.4" x2="123" y2="180.4" stroke="#000" stroke-width="4.6" stroke-linecap="butt"/>
<text x="103.8" y="189" font-size="29" text-anchor="end" font-weight="normal" fill="#000" font-family="'Liberation Sans', Arial, Helvetica, sans-serif" >0.9</text>
<line x1="111.5" y1="105.4" x2="123" y2="105.4" stroke="#000" stroke-width="4.6" stroke-linecap="butt"/>
<text x="103.8" y="114" font-size="29" text-anchor="end" font-weight="normal" fill="#000" font-family="'Liberation Sans', Arial, Helvetica, sans-serif" >1.0</text>
<line x1="117" y1="592.9" x2="123" y2="592.9" stroke="#000" stroke-width="4.6" stroke-linecap="butt"/>
<line x1="117" y1="517.9" x2="123" y2="517.9" stroke="#000" stroke-width="4.6" stroke-linecap="butt"/>
<line x1="117" y1="442.9" x2="123" y2="442.9" stroke="#000" stroke-width="4.6" stroke-linecap="butt"/>
<line x1="117" y1="367.9" x2="123" y2="367.9" stroke="#000" stroke-width="4.6" stroke-linecap="butt"/>
<line x1="117" y1="292.9" x2="123" y2="292.9" stroke="#000" stroke-width="4.6" stroke-linecap="butt"/>
<line x1="117" y1="217.9" x2="123" y2="217.9" stroke="#000" stroke-width="4.6" stroke-linecap="butt"/>
<line x1="117" y1="142.9" x2="123" y2="142.9" stroke="#000" stroke-width="4.6" stroke-linecap="butt"/>
<line x1="117" y1="67.9" x2="123" y2="67.9" stroke="#000" stroke-width="4.6" stroke-linecap="butt"/>
<line x1="123" y1="630" x2="123" y2="641" stroke="#000" stroke-width="5.2" stroke-linecap="butt"/>
<text x="123" y="671.3" font-size="29" text-anchor="middle" font-weight="normal" fill="#000" font-family="'Liberation Sans', Arial, Helvetica, sans-serif" >0</text>
<line x1="239.2" y1="630" x2="239.2" y2="641" stroke="#000" stroke-width="5.2" stroke-linecap="butt"/>
<text x="239.2" y="671.3" font-size="29" text-anchor="middle" font-weight="normal" fill="#000" font-family="'Liberation Sans', Arial, Helvetica, sans-serif" >10</text>
<line x1="355.4" y1="630" x2="355.4" y2="641" stroke="#000" stroke-width="5.2" stroke-linecap="butt"/>
<text x="355.4" y="671.3" font-size="29" text-anchor="middle" font-weight="normal" fill="#000" font-family="'Liberation Sans', Arial, Helvetica, sans-serif" >20</text>
<line x1="471.6" y1="630" x2="471.6" y2="641" stroke="#000" stroke-width="5.2" stroke-linecap="butt"/>
<text x="471.6" y="671.3" font-size="29" text-anchor="middle" font-weight="normal" fill="#000" font-family="'Liberation Sans', Arial, Helvetica, sans-serif" >30</text>
<line x1="587.8" y1="630" x2="587.8" y2="641" stroke="#000" stroke-width="5.2" stroke-linecap="butt"/>
<text x="587.8" y="671.3" font-size="29" text-anchor="middle" font-weight="normal" fill="#000" font-family="'Liberation Sans', Arial, Helvetica, sans-serif" >40</text>
<line x1="704" y1="630" x2="704" y2="641" stroke="#000" stroke-width="5.2" stroke-linecap="butt"/>
<text x="704" y="671.3" font-size="29" text-anchor="middle" font-weight="normal" fill="#000" font-family="'Liberation Sans', Arial, Helvetica, sans-serif" >50</text>
<line x1="820.2" y1="630" x2="820.2" y2="641" stroke="#000" stroke-width="5.2" stroke-linecap="butt"/>
<text x="820.2" y="671.3" font-size="29" text-anchor="middle" font-weight="normal" fill="#000" font-family="'Liberation Sans', Arial, Helvetica, sans-serif" >60</text>
<line x1="181.1" y1="630" x2="181.1" y2="635.8" stroke="#000" stroke-width="5.2" stroke-linecap="butt"/>
<line x1="297.3" y1="630" x2="297.3" y2="635.8" stroke="#000" stroke-width="5.2" stroke-linecap="butt"/>
<line x1="413.5" y1="630" x2="413.5" y2="635.8" stroke="#000" stroke-width="5.2" stroke-linecap="butt"/>
<line x1="529.7" y1="630" x2="529.7" y2="635.8" stroke="#000" stroke-width="5.2" stroke-linecap="butt"/>
<line x1="645.9" y1="630" x2="645.9" y2="635.8" stroke="#000" stroke-width="5.2" stroke-linecap="butt"/>
<line x1="762.1" y1="630" x2="762.1" y2="635.8" stroke="#000" stroke-width="5.2" stroke-linecap="butt"/>
<g fill="#fb3c3f">
<circle cx="123" cy="105.4" r="4.4"/>
<circle cx="128.8" cy="109.2" r="4.4"/>
<circle cx="134.6" cy="116.7" r="4.4"/>
<circle cx="140.4" cy="129.1" r="4.4"/>
<circle cx="146.2" cy="138.4" r="4.4"/>
<circle cx="152.1" cy="145.8" r="4.4"/>
<circle cx="157.9" cy="152.6" r="4.4"/>
<circle cx="163.7" cy="161.6" r="4.4"/>
<circle cx="169.5" cy="175.1" r="4.4"/>
<circle cx="175.3" cy="180.4" r="4.4"/>
<circle cx="181.1" cy="193.9" r="4.4"/>
<circle cx="186.9" cy="200.7" r="4.4"/>
<circle cx="192.7" cy="205.9" r="4.4"/>
<circle cx="198.5" cy="223.9" r="4.4"/>
<circle cx="204.3" cy="229.2" r="4.4"/>
<circle cx="210.1" cy="236.7" r="4.4"/>
<circle cx="216" cy="244.2" r="4.4"/>
<circle cx="221.8" cy="251.6" r="4.4"/>
<circle cx="227.6" cy="262.1" r="4.4"/>
<circle cx="233.4" cy="268.9" r="4.4"/>
<circle cx="239.2" cy="271.1" r="4.4"/>
<circle cx="245" cy="283.9" r="4.4"/>
<circle cx="250.8" cy="289.9" r="4.4"/>
<circle cx="256.6" cy="295.1" r="4.4"/>
<circle cx="262.4" cy="301.9" r="4.4"/>
<circle cx="268.2" cy="309.4" r="4.4"/>
<circle cx="274.1" cy="313.9" r="4.4"/>
<circle cx="279.9" cy="319.9" r="4.4"/>
<circle cx="285.7" cy="331.9" r="4.4"/>
<circle cx="291.5" cy="337.9" r="4.4"/>
<circle cx="297.3" cy="342.4" r="4.4"/>
<circle cx="303.1" cy="352.1" r="4.4"/>
<circle cx="308.9" cy="352" r="4.4"/>
<circle cx="314.7" cy="355.8" r="4.4"/>
<circle cx="320.5" cy="362.6" r="4.4"/>
<circle cx="326.4" cy="369.4" r="4.4"/>
<circle cx="332.2" cy="372.6" r="4.4"/>
<circle cx="338" cy="379.6" r="4.4"/>
<circle cx="343.8" cy="380" r="4.4"/>
<circle cx="349.6" cy="383.6" r="4.4"/>
<circle cx="355.4" cy="393.4" r="4.4"/>
<circle cx="361.2" cy="394.3" r="4.4"/>
<circle cx="367" cy="397.9" r="4.4"/>
<circle cx="372.8" cy="405.4" r="4.4"/>
<circle cx="378.6" cy="406.2" r="4.4"/>
<circle cx="384.4" cy="409.9" r="4.4"/>
<circle cx="390.3" cy="417.4" r="4.4"/>
<circle cx="396.1" cy="418.9" r="4.4"/>
<circle cx="401.9" cy="422.7" r="4.4"/>
<circle cx="407.7" cy="429.1" r="4.4"/>
<circle cx="413.5" cy="433.2" r="4.4"/>
<circle cx="419.3" cy="435.7" r="4.4"/>
<circle cx="425.1" cy="438.4" r="4.4"/>
<circle cx="430.9" cy="445.4" r="4.4"/>
<circle cx="436.7" cy="451.1" r="4.4"/>
<circle cx="442.5" cy="454.8" r="4.4"/>
<circle cx="448.4" cy="454.1" r="4.4"/>
<circle cx="454.2" cy="459.3" r="4.4"/>
<circle cx="460" cy="460.1" r="4.4"/>
<circle cx="465.8" cy="464.5" r="4.4"/>
<circle cx="471.6" cy="466.9" r="4.4"/>
<circle cx="477.4" cy="469.5" r="4.4"/>
<circle cx="483.2" cy="469" r="4.4"/>
<circle cx="489" cy="471.4" r="4.4"/>
<circle cx="494.8" cy="471.4" r="4.4"/>
<circle cx="500.6" cy="475.8" r="4.4"/>
<circle cx="506.5" cy="475.7" r="4.4"/>
<circle cx="512.3" cy="477.6" r="4.4"/>
<circle cx="518.1" cy="481.9" r="4.4"/>
<circle cx="523.9" cy="483" r="4.4"/>
<circle cx="529.7" cy="488.8" r="4.4"/>
<circle cx="535.5" cy="492.6" r="4.4"/>
<circle cx="541.3" cy="495.7" r="4.4"/>
<circle cx="547.1" cy="497.6" r="4.4"/>
<circle cx="552.9" cy="501.6" r="4.4"/>
<circle cx="558.8" cy="504.1" r="4.4"/>
<circle cx="564.6" cy="504.7" r="4.4"/>
<circle cx="570.4" cy="506" r="4.4"/>
<circle cx="576.2" cy="510.4" r="4.4"/>
<circle cx="582" cy="508.9" r="4.4"/>
<circle cx="587.8" cy="510.5" r="4.4"/>
<circle cx="593.6" cy="510.4" r="4.4"/>
<circle cx="599.4" cy="516" r="4.4"/>
<circle cx="605.2" cy="521.8" r="4.4"/>
<circle cx="611" cy="521.4" r="4.4"/>
<circle cx="616.8" cy="522.3" r="4.4"/>
<circle cx="622.7" cy="522.1" r="4.4"/>
<circle cx="628.5" cy="526.7" r="4.4"/>
<circle cx="634.3" cy="526.1" r="4.4"/>
<circle cx="640.1" cy="527.7" r="4.4"/>
<circle cx="645.9" cy="528.8" r="4.4"/>
<circle cx="651.7" cy="531.6" r="4.4"/>
<circle cx="657.5" cy="535.1" r="4.4"/>
<circle cx="663.3" cy="534.2" r="4.4"/>
<circle cx="669.1" cy="535.5" r="4.4"/>
<circle cx="674.9" cy="537" r="4.4"/>
<circle cx="680.8" cy="534.4" r="4.4"/>
<circle cx="686.6" cy="535.9" r="4.4"/>
<circle cx="692.4" cy="539.2" r="4.4"/>
<circle cx="698.2" cy="539.5" r="4.4"/>
<circle cx="704" cy="543.4" r="4.4"/>
<circle cx="709.8" cy="542.9" r="4.4"/>
<circle cx="715.6" cy="547.2" r="4.4"/>
<circle cx="721.4" cy="548.4" r="4.4"/>
<circle cx="727.2" cy="549.9" r="4.4"/>
<circle cx="733" cy="551.6" r="4.4"/>
<circle cx="738.9" cy="550.4" r="4.4"/>
<circle cx="744.7" cy="552.6" r="4.4"/>
<circle cx="750.5" cy="555" r="4.4"/>
<circle cx="756.3" cy="558.4" r="4.4"/>
<circle cx="762.1" cy="560.5" r="4.4"/>
<circle cx="767.9" cy="560.6" r="4.4"/>
<circle cx="773.7" cy="563.3" r="4.4"/>
<circle cx="779.5" cy="561" r="4.4"/>
<circle cx="785.3" cy="562.5" r="4.4"/>
<circle cx="791.1" cy="564.9" r="4.4"/>
<circle cx="797" cy="570" r="4.4"/>
<circle cx="802.8" cy="572.6" r="4.4"/>
<circle cx="808.6" cy="570.6" r="4.4"/>
<circle cx="814.4" cy="570.4" r="4.4"/>
</g>
<g fill="#1a6fe0">
<circle cx="123" cy="105.4" r="4.4"/>
<circle cx="128.8" cy="112.9" r="4.4"/>
<circle cx="134.6" cy="119.7" r="4.4"/>
<circle cx="140.4" cy="128.4" r="4.4"/>
<circle cx="146.2" cy="131.2" r="4.4"/>
<circle cx="152.1" cy="135.2" r="4.4"/>
<circle cx="157.9" cy="133.9" r="4.4"/>
<circle cx="163.7" cy="132.4" r="4.4"/>
<circle cx="169.5" cy="132.4" r="4.4"/>
<circle cx="175.3" cy="131.6" r="4.4"/>
<circle cx="181.1" cy="127.4" r="4.4"/>
<circle cx="186.9" cy="132.2" r="4.4"/>
<circle cx="192.7" cy="141.5" r="4.4"/>
<circle cx="198.5" cy="139.8" r="4.4"/>
<circle cx="204.3" cy="142.2" r="4.4"/>
<circle cx="210.1" cy="137.4" r="4.4"/>
<circle cx="216" cy="141.4" r="4.4"/>
<circle cx="221.8" cy="144.8" r="4.4"/>
<circle cx="227.6" cy="143.5" r="4.4"/>
<circle cx="233.4" cy="135.5" r="4.4"/>
<circle cx="239.2" cy="138.1" r="4.4"/>
<circle cx="245" cy="145.9" r="4.4"/>
<circle cx="250.8" cy="139.9" r="4.4"/>
<circle cx="256.6" cy="139.2" r="4.4"/>
<circle cx="262.4" cy="143.7" r="4.4"/>
<circle cx="268.2" cy="136.2" r="4.4"/>
<circle cx="274.1" cy="147.4" r="4.4"/>
<circle cx="279.9" cy="142.2" r="4.4"/>
<circle cx="285.7" cy="144.4" r="4.4"/>
<circle cx="291.5" cy="142.9" r="4.4"/>
<circle cx="297.3" cy="144.4" r="4.4"/>
<circle cx="303.1" cy="151.9" r="4.4"/>
<circle cx="308.9" cy="142.2" r="4.4"/>
<circle cx="314.7" cy="139.2" r="4.4"/>
<circle cx="320.5" cy="146.7" r="4.4"/>
<circle cx="326.4" cy="148.9" r="4.4"/>
<circle cx="332.2" cy="148.2" r="4.4"/>
<circle cx="338" cy="140.7" r="4.4"/>
<circle cx="343.8" cy="142.9" r="4.4"/>
<circle cx="349.6" cy="148.9" r="4.4"/>
<circle cx="355.4" cy="145.2" r="4.4"/>
<circle cx="361.2" cy="149.7" r="4.4"/>
<circle cx="367" cy="145.2" r="4.4"/>
<circle cx="372.8" cy="150.4" r="4.4"/>
<circle cx="378.6" cy="160.1" r="4.4"/>
<circle cx="384.4" cy="151.9" r="4.4"/>
<circle cx="390.3" cy="160.1" r="4.4"/>
<circle cx="396.1" cy="148.9" r="4.4"/>
<circle cx="401.9" cy="146.7" r="4.4"/>
<circle cx="407.7" cy="148.9" r="4.4"/>
<circle cx="413.5" cy="155.6" r="4.4"/>
<circle cx="419.3" cy="155.6" r="4.4"/>
<circle cx="425.1" cy="154.9" r="4.4"/>
<circle cx="430.9" cy="160.1" r="4.4"/>
<circle cx="436.7" cy="157.9" r="4.4"/>
<circle cx="442.5" cy="154.9" r="4.4"/>
<circle cx="448.4" cy="157.9" r="4.4"/>
<circle cx="454.2" cy="164.6" r="4.4"/>
<circle cx="460" cy="161.6" r="4.4"/>
<circle cx="465.8" cy="161.6" r="4.4"/>
<circle cx="471.6" cy="163.1" r="4.4"/>
<circle cx="477.4" cy="156.4" r="4.4"/>
<circle cx="483.2" cy="166.5" r="4.4"/>
<circle cx="489" cy="161.6" r="4.4"/>
<circle cx="494.8" cy="155.3" r="4.4"/>
<circle cx="500.6" cy="157.2" r="4.4"/>
<circle cx="506.5" cy="154.6" r="4.4"/>
<circle cx="512.3" cy="162" r="4.4"/>
<circle cx="518.1" cy="159.5" r="4.4"/>
<circle cx="523.9" cy="160.4" r="4.4"/>
<circle cx="529.7" cy="166.5" r="4.4"/>
<circle cx="535.5" cy="161.1" r="4.4"/>
<circle cx="541.3" cy="161.4" r="4.4"/>
<circle cx="547.1" cy="165.4" r="4.4"/>
<circle cx="552.9" cy="165" r="4.4"/>
<circle cx="558.8" cy="161.3" r="4.4"/>
<circle cx="564.6" cy="155.2" r="4.4"/>
<circle cx="570.4" cy="156.2" r="4.4"/>
<circle cx="576.2" cy="172.1" r="4.4"/>
<circle cx="582" cy="175.9" r="4.4"/>
<circle cx="587.8" cy="172.6" r="4.4"/>
<circle cx="593.6" cy="165.4" r="4.4"/>
<circle cx="599.4" cy="165.6" r="4.4"/>
<circle cx="605.2" cy="168.9" r="4.4"/>
<circle cx="611" cy="172.1" r="4.4"/>
<circle cx="616.8" cy="171.5" r="4.4"/>
<circle cx="622.7" cy="172.9" r="4.4"/>
<circle cx="628.5" cy="169.1" r="4.4"/>
<circle cx="634.3" cy="172.8" r="4.4"/>
<circle cx="640.1" cy="173.8" r="4.4"/>
<circle cx="645.9" cy="171.5" r="4.4"/>
<circle cx="651.7" cy="178.4" r="4.4"/>
<circle cx="657.5" cy="172.1" r="4.4"/>
<circle cx="663.3" cy="179.6" r="4.4"/>
<circle cx="669.1" cy="179.7" r="4.4"/>
<circle cx="674.9" cy="177.6" r="4.4"/>
<circle cx="680.8" cy="183.7" r="4.4"/>
<circle cx="686.6" cy="178.9" r="4.4"/>
<circle cx="692.4" cy="175.7" r="4.4"/>
<circle cx="698.2" cy="176.6" r="4.4"/>
<circle cx="704" cy="181.4" r="4.4"/>
<circle cx="709.8" cy="187.1" r="4.4"/>
<circle cx="715.6" cy="177.8" r="4.4"/>
<circle cx="721.4" cy="178.9" r="4.4"/>
<circle cx="727.2" cy="178.6" r="4.4"/>
<circle cx="733" cy="187.3" r="4.4"/>
<circle cx="738.9" cy="188" r="4.4"/>
<circle cx="744.7" cy="189.2" r="4.4"/>
<circle cx="750.5" cy="185.5" r="4.4"/>
<circle cx="756.3" cy="191.5" r="4.4"/>
<circle cx="762.1" cy="185.6" r="4.4"/>
<circle cx="767.9" cy="193.7" r="4.4"/>
<circle cx="773.7" cy="193" r="4.4"/>
<circle cx="779.5" cy="195" r="4.4"/>
<circle cx="785.3" cy="194.5" r="4.4"/>
<circle cx="791.1" cy="189.4" r="4.4"/>
<circle cx="797" cy="200.7" r="4.4"/>
<circle cx="802.8" cy="191.7" r="4.4"/>
<circle cx="808.6" cy="199.9" r="4.4"/>
<circle cx="814.4" cy="199.9" r="4.4"/>
</g>
<g fill="#df70fc">
<circle cx="123" cy="105.4" r="4.4"/>
<circle cx="128.8" cy="118.2" r="4.4"/>
<circle cx="134.6" cy="124" r="4.4"/>
<circle cx="140.4" cy="123" r="4.4"/>
<circle cx="146.2" cy="127.6" r="4.4"/>
<circle cx="152.1" cy="129.7" r="4.4"/>
<circle cx="157.9" cy="131.9" r="4.4"/>
<circle cx="163.7" cy="136.3" r="4.4"/>
<circle cx="169.5" cy="139.3" r="4.4"/>
<circle cx="175.3" cy="149.7" r="4.4"/>
<circle cx="181.1" cy="150.6" r="4.4"/>
<circle cx="186.9" cy="158.8" r="4.4"/>
<circle cx="192.7" cy="166.5" r="4.4"/>
<circle cx="198.5" cy="174.9" r="4.4"/>
<circle cx="204.3" cy="177.6" r="4.4"/>
<circle cx="210.1" cy="175.6" r="4.4"/>
<circle cx="216" cy="191" r="4.4"/>
<circle cx="221.8" cy="194.1" r="4.4"/>
<circle cx="227.6" cy="200.4" r="4.4"/>
<circle cx="233.4" cy="212.5" r="4.4"/>
<circle cx="239.2" cy="210.1" r="4.4"/>
<circle cx="245" cy="217.2" r="4.4"/>
<circle cx="250.8" cy="223.9" r="4.4"/>
<circle cx="256.6" cy="232.2" r="4.4"/>
<circle cx="262.4" cy="236.7" r="4.4"/>
<circle cx="268.2" cy="247.1" r="4.4"/>
<circle cx="274.1" cy="247.1" r="4.4"/>
<circle cx="279.9" cy="253.1" r="4.4"/>
<circle cx="285.7" cy="249.4" r="4.4"/>
<circle cx="291.5" cy="250.9" r="4.4"/>
<circle cx="297.3" cy="263.6" r="4.4"/>
<circle cx="303.1" cy="268.1" r="4.4"/>
<circle cx="308.9" cy="271.9" r="4.4"/>
<circle cx="314.7" cy="283.1" r="4.4"/>
<circle cx="320.5" cy="287.6" r="4.4"/>
<circle cx="326.4" cy="299.6" r="4.4"/>
<circle cx="332.2" cy="301.9" r="4.4"/>
<circle cx="338" cy="299.6" r="4.4"/>
<circle cx="343.8" cy="310.2" r="4.4"/>
<circle cx="349.6" cy="313.2" r="4.4"/>
<circle cx="355.4" cy="319.2" r="4.4"/>
<circle cx="361.2" cy="324.4" r="4.4"/>
<circle cx="367" cy="334.2" r="4.4"/>
<circle cx="372.8" cy="326.7" r="4.4"/>
<circle cx="378.6" cy="334.9" r="4.4"/>
<circle cx="384.4" cy="340.2" r="4.4"/>
<circle cx="390.3" cy="342.4" r="4.4"/>
<circle cx="396.1" cy="346.1" r="4.4"/>
<circle cx="401.9" cy="349.9" r="4.4"/>
<circle cx="407.7" cy="352.1" r="4.4"/>
<circle cx="413.5" cy="365.6" r="4.4"/>
<circle cx="419.3" cy="368.2" r="4.4"/>
<circle cx="425.1" cy="369.4" r="4.4"/>
<circle cx="430.9" cy="369.4" r="4.4"/>
<circle cx="436.7" cy="373.9" r="4.4"/>
<circle cx="442.5" cy="377.9" r="4.4"/>
<circle cx="448.4" cy="376.9" r="4.4"/>
<circle cx="454.2" cy="382.9" r="4.4"/>
<circle cx="460" cy="387.4" r="4.4"/>
<circle cx="465.8" cy="388.9" r="4.4"/>
<circle cx="471.6" cy="391.6" r="4.4"/>
<circle cx="477.4" cy="393.5" r="4.4"/>
<circle cx="483.2" cy="393.9" r="4.4"/>
<circle cx="489" cy="398.6" r="4.4"/>
<circle cx="494.8" cy="399.6" r="4.4"/>
<circle cx="500.6" cy="402.2" r="4.4"/>
<circle cx="506.5" cy="408.5" r="4.4"/>
<circle cx="512.3" cy="410.6" r="4.4"/>
<circle cx="518.1" cy="412.9" r="4.4"/>
<circle cx="523.9" cy="416" r="4.4"/>
<circle cx="529.7" cy="415.1" r="4.4"/>
<circle cx="535.5" cy="416.9" r="4.4"/>
<circle cx="541.3" cy="424" r="4.4"/>
<circle cx="547.1" cy="424.2" r="4.4"/>
<circle cx="552.9" cy="428.6" r="4.4"/>
<circle cx="558.8" cy="430.9" r="4.4"/>
<circle cx="564.6" cy="433.4" r="4.4"/>
<circle cx="570.4" cy="434.4" r="4.4"/>
<circle cx="576.2" cy="436.9" r="4.4"/>
<circle cx="582" cy="437.6" r="4.4"/>
<circle cx="587.8" cy="440.7" r="4.4"/>
<circle cx="593.6" cy="443.5" r="4.4"/>
<circle cx="599.4" cy="442.2" r="4.4"/>
<circle cx="605.2" cy="442.9" r="4.4"/>
<circle cx="611" cy="445.5" r="4.4"/>
<circle cx="616.8" cy="446.1" r="4.4"/>
<circle cx="622.7" cy="445.6" r="4.4"/>
<circle cx="628.5" cy="449" r="4.4"/>
<circle cx="634.3" cy="451.9" r="4.4"/>
<circle cx="640.1" cy="452.7" r="4.4"/>
<circle cx="645.9" cy="453.1" r="4.4"/>
<circle cx="651.7" cy="453.7" r="4.4"/>
<circle cx="657.5" cy="455.6" r="4.4"/>
<circle cx="663.3" cy="459.8" r="4.4"/>
<circle cx="669.1" cy="456.3" r="4.4"/>
<circle cx="674.9" cy="458.5" r="4.4"/>
<circle cx="680.8" cy="459.4" r="4.4"/>
<circle cx="686.6" cy="463.1" r="4.4"/>
<circle cx="692.4" cy="462.5" r="4.4"/>
<circle cx="698.2" cy="466" r="4.4"/>
<circle cx="704" cy="467.1" r="4.4"/>
<circle cx="709.8" cy="470" r="4.4"/>
<circle cx="715.6" cy="468" r="4.4"/>
<circle cx="721.4" cy="469.9" r="4.4"/>
<circle cx="727.2" cy="473.1" r="4.4"/>
<circle cx="733" cy="473.6" r="4.4"/>
<circle cx="738.9" cy="473.3" r="4.4"/>
<circle cx="744.7" cy="474.1" r="4.4"/>
<circle cx="750.5" cy="472.7" r="4.4"/>
<circle cx="756.3" cy="476.8" r="4.4"/>
<circle cx="762.1" cy="483.4" r="4.4"/>
<circle cx="767.9" cy="484.7" r="4.4"/>
<circle cx="773.7" cy="486.8" r="4.4"/>
<circle cx="779.5" cy="487.5" r="4.4"/>
<circle cx="785.3" cy="484.9" r="4.4"/>
<circle cx="791.1" cy="489.6" r="4.4"/>
<circle cx="797" cy="490.1" r="4.4"/>
<circle cx="802.8" cy="494.8" r="4.4"/>
<circle cx="808.6" cy="494.6" r="4.4"/>
<circle cx="814.4" cy="485.6" r="4.4"/>
</g>
<g fill="#008000">
<circle cx="123" cy="105.4" r="4.4"/>
<circle cx="128.8" cy="105.4" r="4.4"/>
<circle cx="134.6" cy="111.8" r="4.4"/>
<circle cx="140.4" cy="116.7" r="4.4"/>
<circle cx="146.2" cy="119.9" r="4.4"/>
<circle cx="152.1" cy="125.5" r="4.4"/>
<circle cx="157.9" cy="123.2" r="4.4"/>
<circle cx="163.7" cy="128.6" r="4.4"/>
<circle cx="169.5" cy="134.2" r="4.4"/>
<circle cx="175.3" cy="136.2" r="4.4"/>
<circle cx="181.1" cy="136.9" r="4.4"/>
<circle cx="186.9" cy="146.6" r="4.4"/>
<circle cx="192.7" cy="152.5" r="4.4"/>
<circle cx="198.5" cy="164.3" r="4.4"/>
<circle cx="204.3" cy="162" r="4.4"/>
<circle cx="210.1" cy="166.1" r="4.4"/>
<circle cx="216" cy="178.1" r="4.4"/>
<circle cx="221.8" cy="176.3" r="4.4"/>
<circle cx="227.6" cy="185.6" r="4.4"/>
<circle cx="233.4" cy="184.8" r="4.4"/>
<circle cx="239.2" cy="183.9" r="4.4"/>
<circle cx="245" cy="204.4" r="4.4"/>
<circle cx="250.8" cy="200.7" r="4.4"/>
<circle cx="256.6" cy="209.7" r="4.4"/>
<circle cx="262.4" cy="213.4" r="4.4"/>
<circle cx="268.2" cy="216.4" r="4.4"/>
<circle cx="274.1" cy="220.9" r="4.4"/>
<circle cx="279.9" cy="224.7" r="4.4"/>
<circle cx="285.7" cy="229.9" r="4.4"/>
<circle cx="291.5" cy="233.7" r="4.4"/>
<circle cx="297.3" cy="243.4" r="4.4"/>
<circle cx="303.1" cy="246.1" r="4.4"/>
<circle cx="308.9" cy="250.1" r="4.4"/>
<circle cx="314.7" cy="253.1" r="4.4"/>
<circle cx="320.5" cy="259.1" r="4.4"/>
<circle cx="326.4" cy="262.9" r="4.4"/>
<circle cx="332.2" cy="268.9" r="4.4"/>
<circle cx="338" cy="272.6" r="4.4"/>
<circle cx="343.8" cy="274.9" r="4.4"/>
<circle cx="349.6" cy="291.9" r="4.4"/>
<circle cx="355.4" cy="286.9" r="4.4"/>
<circle cx="361.2" cy="286.9" r="4.4"/>
<circle cx="367" cy="295.1" r="4.4"/>
<circle cx="372.8" cy="295.1" r="4.4"/>
<circle cx="378.6" cy="302.6" r="4.4"/>
<circle cx="384.4" cy="305.6" r="4.4"/>
<circle cx="390.3" cy="308.6" r="4.4"/>
<circle cx="396.1" cy="309.4" r="4.4"/>
<circle cx="401.9" cy="317.7" r="4.4"/>
<circle cx="407.7" cy="322.9" r="4.4"/>
<circle cx="413.5" cy="326.7" r="4.4"/>
<circle cx="419.3" cy="329.5" r="4.4"/>
<circle cx="425.1" cy="328.2" r="4.4"/>
<circle cx="430.9" cy="332.6" r="4.4"/>
<circle cx="436.7" cy="334.2" r="4.4"/>
<circle cx="442.5" cy="342.4" r="4.4"/>
<circle cx="448.4" cy="339.4" r="4.4"/>
<circle cx="454.2" cy="345.4" r="4.4"/>
<circle cx="460" cy="349.1" r="4.4"/>
<circle cx="465.8" cy="352.1" r="4.4"/>
<circle cx="471.6" cy="353.8" r="4.4"/>
<circle cx="477.4" cy="353.6" r="4.4"/>
<circle cx="483.2" cy="362.6" r="4.4"/>
<circle cx="489" cy="366.6" r="4.4"/>
<circle cx="494.8" cy="368.9" r="4.4"/>
<circle cx="500.6" cy="371.4" r="4.4"/>
<circle cx="506.5" cy="375.6" r="4.4"/>
<circle cx="512.3" cy="375.4" r="4.4"/>
<circle cx="518.1" cy="375.8" r="4.4"/>
<circle cx="523.9" cy="377.4" r="4.4"/>
<circle cx="529.7" cy="382.9" r="4.4"/>
<circle cx="535.5" cy="385.5" r="4.4"/>
<circle cx="541.3" cy="388.5" r="4.4"/>
<circle cx="547.1" cy="391" r="4.4"/>
<circle cx="552.9" cy="394.1" r="4.4"/>
<circle cx="558.8" cy="398" r="4.4"/>
<circle cx="564.6" cy="401.6" r="4.4"/>
<circle cx="570.4" cy="402.3" r="4.4"/>
<circle cx="576.2" cy="403.4" r="4.4"/>
<circle cx="582" cy="399.5" r="4.4"/>
<circle cx="587.8" cy="399.7" r="4.4"/>
<circle cx="593.6" cy="402.3" r="4.4"/>
<circle cx="599.4" cy="405.4" r="4.4"/>
<circle cx="605.2" cy="409.1" r="4.4"/>
<circle cx="611" cy="411.9" r="4.4"/>
<circle cx="616.8" cy="415.5" r="4.4"/>
<circle cx="622.7" cy="414.4" r="4.4"/>
<circle cx="628.5" cy="417.1" r="4.4"/>
<circle cx="634.3" cy="419.3" r="4.4"/>
<circle cx="640.1" cy="419.7" r="4.4"/>
<circle cx="645.9" cy="416.6" r="4.4"/>
<circle cx="651.7" cy="418.4" r="4.4"/>
<circle cx="657.5" cy="424.2" r="4.4"/>
<circle cx="663.3" cy="427.7" r="4.4"/>
<circle cx="669.1" cy="430" r="4.4"/>
<circle cx="674.9" cy="425.9" r="4.4"/>
<circle cx="680.8" cy="430" r="4.4"/>
<circle cx="686.6" cy="431.7" r="4.4"/>
<circle cx="692.4" cy="435.5" r="4.4"/>
<circle cx="698.2" cy="434.8" r="4.4"/>
<circle cx="704" cy="439.6" r="4.4"/>
<circle cx="709.8" cy="438.4" r="4.4"/>
<circle cx="715.6" cy="437.9" r="4.4"/>
<circle cx="721.4" cy="437.6" r="4.4"/>
<circle cx="727.2" cy="436.5" r="4.4"/>
<circle cx="733" cy="439" r="4.4"/>
<circle cx="738.9" cy="442.9" r="4.4"/>
<circle cx="744.7" cy="443.2" r="4.4"/>
<circle cx="750.5" cy="447.3" r="4.4"/>
<circle cx="756.3" cy="448.2" r="4.4"/>
<circle cx="762.1" cy="448.9" r="4.4"/>
<circle cx="767.9" cy="452.2" r="4.4"/>
<circle cx="773.7" cy="449.9" r="4.4"/>
<circle cx="779.5" cy="452.6" r="4.4"/>
<circle cx="785.3" cy="454.1" r="4.4"/>
<circle cx="791.1" cy="451.4" r="4.4"/>
<circle cx="797" cy="451.9" r="4.4"/>
<circle cx="802.8" cy="456.3" r="4.4"/>
<circle cx="808.6" cy="458.6" r="4.4"/>
<circle cx="814.4" cy="452.6" r="4.4"/>
</g>
<g fill="#808080">
<circle cx="123" cy="109.9" r="4.4"/>
<circle cx="128.8" cy="109.8" r="4.4"/>
<circle cx="134.6" cy="109.6" r="4.4"/>
<circle cx="140.4" cy="106.9" r="4.4"/>
<circle cx="146.2" cy="111.9" r="4.4"/>
<circle cx="152.1" cy="120.9" r="4.4"/>
<circle cx="157.9" cy="118.2" r="4.4"/>
<circle cx="163.7" cy="121.4" r="4.4"/>
<circle cx="169.5" cy="118.1" r="4.4"/>
<circle cx="175.3" cy="123.4" r="4.4"/>
<circle cx="181.1" cy="122" r="4.4"/>
<circle cx="186.9" cy="123.9" r="4.4"/>
<circle cx="192.7" cy="127.2" r="4.4"/>
<circle cx="198.5" cy="131" r="4.4"/>
<circle cx="204.3" cy="126.8" r="4.4"/>
<circle cx="210.1" cy="127.2" r="4.4"/>
<circle cx="216" cy="133.6" r="4.4"/>
<circle cx="221.8" cy="126.4" r="4.4"/>
<circle cx="227.6" cy="129.5" r="4.4"/>
<circle cx="233.4" cy="130.2" r="4.4"/>
<circle cx="239.2" cy="123.4" r="4.4"/>
<circle cx="245" cy="128.5" r="4.4"/>
<circle cx="250.8" cy="125.6" r="4.4"/>
<circle cx="256.6" cy="130.9" r="4.4"/>
<circle cx="262.4" cy="127.9" r="4.4"/>
<circle cx="268.2" cy="122.7" r="4.4"/>
<circle cx="274.1" cy="124.5" r="4.4"/>
<circle cx="279.9" cy="129" r="4.4"/>
<circle cx="285.7" cy="126.4" r="4.4"/>
<circle cx="291.5" cy="119.7" r="4.4"/>
<circle cx="297.3" cy="122.7" r="4.4"/>
<circle cx="303.1" cy="119.7" r="4.4"/>
<circle cx="308.9" cy="127.2" r="4.4"/>
<circle cx="314.7" cy="123.4" r="4.4"/>
<circle cx="320.5" cy="128.7" r="4.4"/>
<circle cx="326.4" cy="130.9" r="4.4"/>
<circle cx="332.2" cy="129.4" r="4.4"/>
<circle cx="338" cy="126.4" r="4.4"/>
<circle cx="343.8" cy="133.9" r="4.4"/>
<circle cx="349.6" cy="124.9" r="4.4"/>
<circle cx="355.4" cy="137.7" r="4.4"/>
<circle cx="361.2" cy="128.7" r="4.4"/>
<circle cx="367" cy="130.9" r="4.4"/>
<circle cx="372.8" cy="127.9" r="4.4"/>
<circle cx="378.6" cy="135.4" r="4.4"/>
<circle cx="384.4" cy="131.7" r="4.4"/>
<circle cx="390.3" cy="129.4" r="4.4"/>
<circle cx="396.1" cy="134.7" r="4.4"/>
<circle cx="401.9" cy="128.7" r="4.4"/>
<circle cx="407.7" cy="132.4" r="4.4"/>
<circle cx="413.5" cy="141.4" r="4.4"/>
<circle cx="419.3" cy="129.4" r="4.4"/>
<circle cx="425.1" cy="132.4" r="4.4"/>
<circle cx="430.9" cy="133.2" r="4.4"/>
<circle cx="436.7" cy="133.9" r="4.4"/>
<circle cx="442.5" cy="130.2" r="4.4"/>
<circle cx="448.4" cy="132.4" r="4.4"/>
<circle cx="454.2" cy="127.2" r="4.4"/>
<circle cx="460" cy="133.2" r="4.4"/>
<circle cx="465.8" cy="133.2" r="4.4"/>
<circle cx="471.6" cy="131.7" r="4.4"/>
<circle cx="477.4" cy="121.9" r="4.4"/>
<circle cx="483.2" cy="126.3" r="4.4"/>
<circle cx="489" cy="123.9" r="4.4"/>
<circle cx="494.8" cy="121" r="4.4"/>
<circle cx="500.6" cy="128" r="4.4"/>
<circle cx="506.5" cy="127.8" r="4.4"/>
<circle cx="512.3" cy="124.8" r="4.4"/>
<circle cx="518.1" cy="122.6" r="4.4"/>
<circle cx="523.9" cy="127" r="4.4"/>
<circle cx="529.7" cy="125.8" r="4.4"/>
<circle cx="535.5" cy="126.8" r="4.4"/>
<circle cx="541.3" cy="121" r="4.4"/>
<circle cx="547.1" cy="128.8" r="4.4"/>
<circle cx="552.9" cy="124.2" r="4.4"/>
<circle cx="558.8" cy="120.6" r="4.4"/>
<circle cx="564.6" cy="125.4" r="4.4"/>
<circle cx="570.4" cy="126.3" r="4.4"/>
<circle cx="576.2" cy="126.2" r="4.4"/>
<circle cx="582" cy="124.2" r="4.4"/>
<circle cx="587.8" cy="122.1" r="4.4"/>
<circle cx="593.6" cy="122.5" r="4.4"/>
<circle cx="599.4" cy="124.2" r="4.4"/>
<circle cx="605.2" cy="129.5" r="4.4"/>
<circle cx="611" cy="133.2" r="4.4"/>
<circle cx="616.8" cy="132.8" r="4.4"/>
<circle cx="622.7" cy="141" r="4.4"/>
<circle cx="628.5" cy="140.7" r="4.4"/>
<circle cx="634.3" cy="130.9" r="4.4"/>
<circle cx="640.1" cy="134.3" r="4.4"/>
<circle cx="645.9" cy="139.2" r="4.4"/>
<circle cx="651.7" cy="141.3" r="4.4"/>
<circle cx="657.5" cy="145.9" r="4.4"/>
<circle cx="663.3" cy="147.4" r="4.4"/>
<circle cx="669.1" cy="146.2" r="4.4"/>
<circle cx="674.9" cy="150.9" r="4.4"/>
<circle cx="680.8" cy="147.3" r="4.4"/>
<circle cx="686.6" cy="148.8" r="4.4"/>
<circle cx="692.4" cy="155" r="4.4"/>
<circle cx="698.2" cy="156" r="4.4"/>
<circle cx="704" cy="155.6" r="4.4"/>
<circle cx="709.8" cy="151.4" r="4.4"/>
<circle cx="715.6" cy="150.4" r="4.4"/>
<circle cx="721.4" cy="153.7" r="4.4"/>
<circle cx="727.2" cy="155.6" r="4.4"/>
<circle cx="733" cy="147.1" r="4.4"/>
<circle cx="738.9" cy="155.6" r="4.4"/>
<circle cx="744.7" cy="157.3" r="4.4"/>
<circle cx="750.5" cy="154.9" r="4.4"/>
<circle cx="756.3" cy="156.1" r="4.4"/>
<circle cx="762.1" cy="155.6" r="4.4"/>
<circle cx="767.9" cy="151.2" r="4.4"/>
<circle cx="773.7" cy="157.9" r="4.4"/>
<circle cx="779.5" cy="159.5" r="4.4"/>
<circle cx="785.3" cy="154.8" r="4.4"/>
<circle cx="791.1" cy="157.1" r="4.4"/>
<circle cx="797" cy="165.4" r="4.4"/>
<circle cx="802.8" cy="154.1" r="4.4"/>
<circle cx="808.6" cy="160.1" r="4.4"/>
<circle cx="814.4" cy="155.6" r="4.4"/>
</g>
<text x="389.6" y="717.9" font-size="34.3" text-anchor="start" font-weight="normal" fill="#000" font-family="'Liberation Sans', Arial, Helvetica, sans-serif" >Time (Min)</text>
<text x="38.4" y="506.8" font-size="31.4" text-anchor="start" font-weight="normal" fill="#000" font-family="'Liberation Sans', Arial, Helvetica, sans-serif" transform="rotate(-90 38.4 506.8)">Relative Fluorescence</text>
<circle cx="168" cy="440" r="9.2" fill="#fb3c3f"/>
<text x="200.2" y="449.6" font-size="28.5" text-anchor="start" font-weight="normal" fill="#000" font-family="'Liberation Sans', Arial, Helvetica, sans-serif" >normal condition</text>
<circle cx="168" cy="479.4" r="9.2" fill="#1a6fe0"/>
<text x="200.2" y="489" font-size="28.5" text-anchor="start" font-weight="normal" fill="#000" font-family="'Liberation Sans', Arial, Helvetica, sans-serif" >Cu<tspan font-size="19" dy="-12">2+</tspan><tspan dy="12"></tspan></text>
<circle cx="168" cy="518.9" r="9.2" fill="#df70fc"/>
<text x="200.2" y="528.5" font-size="28.5" text-anchor="start" font-weight="normal" fill="#000" font-family="'Liberation Sans', Arial, Helvetica, sans-serif" >Cu<tspan font-size="19" dy="-12">2+</tspan><tspan dy="12"> + D-ZnF1</tspan></text>
<circle cx="168" cy="558.4" r="9.2" fill="#008000"/>
<text x="200.2" y="568" font-size="28.5" text-anchor="start" font-weight="normal" fill="#000" font-family="'Liberation Sans', Arial, Helvetica, sans-serif" >Cu<tspan font-size="19" dy="-12">2+</tspan><tspan dy="12"> + D-ZnF2</tspan></text>
<circle cx="168" cy="597.6" r="9.2" fill="#808080"/>
<text x="200.2" y="607.2" font-size="28.5" text-anchor="start" font-weight="normal" fill="#000" font-family="'Liberation Sans', Arial, Helvetica, sans-serif" >Cu<tspan font-size="19" dy="-12">2+</tspan><tspan dy="12"> + control peptide</tspan></text>
<line x1="1004.4" y1="71" x2="1004.4" y2="630.7" stroke="#000" stroke-width="4.6" stroke-linecap="butt"/>
<line x1="994.3" y1="628.5" x2="1453.7" y2="628.5" stroke="#000" stroke-width="4.6" stroke-linecap="butt"/>
<line x1="994" y1="628.5" x2="1004.4" y2="628.5" stroke="#000" stroke-width="5.4" stroke-linecap="butt"/>
<text x="986.2" y="637.8" font-size="29" text-anchor="end" font-weight="normal" fill="#000" font-family="'Liberation Sans', Arial, Helvetica, sans-serif" >0.0</text>
<line x1="994" y1="527.6" x2="1004.4" y2="527.6" stroke="#000" stroke-width="5.4" stroke-linecap="butt"/>
<text x="986.2" y="536.9" font-size="29" text-anchor="end" font-weight="normal" fill="#000" font-family="'Liberation Sans', Arial, Helvetica, sans-serif" >0.2</text>
<line x1="994" y1="426.7" x2="1004.4" y2="426.7" stroke="#000" stroke-width="5.4" stroke-linecap="butt"/>
<text x="986.2" y="436" font-size="29" text-anchor="end" font-weight="normal" fill="#000" font-family="'Liberation Sans', Arial, Helvetica, sans-serif" >0.4</text>
<line x1="994" y1="325.8" x2="1004.4" y2="325.8" stroke="#000" stroke-width="5.4" stroke-linecap="butt"/>
<text x="986.2" y="335.1" font-size="29" text-anchor="end" font-weight="normal" fill="#000" font-family="'Liberation Sans', Arial, Helvetica, sans-serif" >0.6</text>
<line x1="994" y1="224.9" x2="1004.4" y2="224.9" stroke="#000" stroke-width="5.4" stroke-linecap="butt"/>
<text x="986.2" y="234.2" font-size="29" text-anchor="end" font-weight="normal" fill="#000" font-family="'Liberation Sans', Arial, Helvetica, sans-serif" >0.8</text>
<line x1="994" y1="124" x2="1004.4" y2="124" stroke="#000" stroke-width="5.4" stroke-linecap="butt"/>
<text x="986.2" y="133.3" font-size="29" text-anchor="end" font-weight="normal" fill="#000" font-family="'Liberation Sans', Arial, Helvetica, sans-serif" >1.0</text>
<line x1="999.2" y1="578" x2="1004.4" y2="578" stroke="#000" stroke-width="5.4" stroke-linecap="butt"/>
<line x1="999.2" y1="477.1" x2="1004.4" y2="477.1" stroke="#000" stroke-width="5.4" stroke-linecap="butt"/>
<line x1="999.2" y1="376.2" x2="1004.4" y2="376.2" stroke="#000" stroke-width="5.4" stroke-linecap="butt"/>
<line x1="999.2" y1="275.3" x2="1004.4" y2="275.3" stroke="#000" stroke-width="5.4" stroke-linecap="butt"/>
<line x1="999.2" y1="174.4" x2="1004.4" y2="174.4" stroke="#000" stroke-width="5.4" stroke-linecap="butt"/>
<line x1="999.2" y1="73.5" x2="1004.4" y2="73.5" stroke="#000" stroke-width="5.4" stroke-linecap="butt"/>
<rect x="1014.8" y="124" width="69" height="504.5" fill="#fb3c3f" stroke="#000" stroke-width="4.2"/>
<line x1="1049.3" y1="114.9" x2="1049.3" y2="133.1" stroke="#000" stroke-width="2" stroke-linecap="butt"/>
<line x1="1043.3" y1="114.9" x2="1055.3" y2="114.9" stroke="#000" stroke-width="2" stroke-linecap="butt"/>
<line x1="1043.3" y1="133.1" x2="1055.3" y2="133.1" stroke="#000" stroke-width="2" stroke-linecap="butt"/>
<line x1="1049.3" y1="628" x2="1049.3" y2="638.5" stroke="#000" stroke-width="4.6" stroke-linecap="butt"/>
<rect x="1104.2" y="563.9" width="69" height="64.6" fill="#1a6fe0" stroke="#000" stroke-width="4.2"/>
<line x1="1138.7" y1="554.6" x2="1138.7" y2="573.3" stroke="#000" stroke-width="2" stroke-linecap="butt"/>
<line x1="1132.7" y1="554.6" x2="1144.7" y2="554.6" stroke="#000" stroke-width="2" stroke-linecap="butt"/>
<line x1="1132.7" y1="573.3" x2="1144.7" y2="573.3" stroke="#000" stroke-width="2" stroke-linecap="butt"/>
<line x1="1138.7" y1="628" x2="1138.7" y2="638.5" stroke="#000" stroke-width="4.6" stroke-linecap="butt"/>
<rect x="1193.5" y="323.8" width="69" height="304.7" fill="#df70fc" stroke="#000" stroke-width="4.2"/>
<line x1="1228" y1="315.2" x2="1228" y2="332.4" stroke="#000" stroke-width="2" stroke-linecap="butt"/>
<line x1="1222" y1="315.2" x2="1234" y2="315.2" stroke="#000" stroke-width="2" stroke-linecap="butt"/>
<line x1="1222" y1="332.4" x2="1234" y2="332.4" stroke="#000" stroke-width="2" stroke-linecap="butt"/>
<line x1="1228" y1="628" x2="1228" y2="638.5" stroke="#000" stroke-width="4.6" stroke-linecap="butt"/>
<rect x="1282.7" y="371.7" width="69" height="256.8" fill="#008000" stroke="#000" stroke-width="4.2"/>
<line x1="1317.2" y1="361.6" x2="1317.2" y2="381.8" stroke="#000" stroke-width="2" stroke-linecap="butt"/>
<line x1="1311.2" y1="361.6" x2="1323.2" y2="361.6" stroke="#000" stroke-width="2" stroke-linecap="butt"/>
<line x1="1311.2" y1="381.8" x2="1323.2" y2="381.8" stroke="#000" stroke-width="2" stroke-linecap="butt"/>
<line x1="1317.2" y1="628" x2="1317.2" y2="638.5" stroke="#000" stroke-width="4.6" stroke-linecap="butt"/>
<rect x="1372" y="573.5" width="69" height="55" fill="#808080" stroke="#000" stroke-width="4.2"/>
<line x1="1406.5" y1="567" x2="1406.5" y2="580.1" stroke="#000" stroke-width="2" stroke-linecap="butt"/>
<line x1="1400.5" y1="567" x2="1412.5" y2="567" stroke="#000" stroke-width="2" stroke-linecap="butt"/>
<line x1="1400.5" y1="580.1" x2="1412.5" y2="580.1" stroke="#000" stroke-width="2" stroke-linecap="butt"/>
<line x1="1406.5" y1="628" x2="1406.5" y2="638.5" stroke="#000" stroke-width="4.6" stroke-linecap="butt"/>
<line x1="1093.9" y1="628" x2="1093.9" y2="633.3" stroke="#000" stroke-width="4.6" stroke-linecap="butt"/>
<line x1="1183.3" y1="628" x2="1183.3" y2="633.3" stroke="#000" stroke-width="4.6" stroke-linecap="butt"/>
<line x1="1272.2" y1="628" x2="1272.2" y2="633.3" stroke="#000" stroke-width="4.6" stroke-linecap="butt"/>
<line x1="1361.7" y1="628" x2="1361.7" y2="633.3" stroke="#000" stroke-width="4.6" stroke-linecap="butt"/>
<line x1="1451" y1="628" x2="1451" y2="633.3" stroke="#000" stroke-width="4.6" stroke-linecap="butt"/>
<text x="920.2" y="495.2" font-size="35" text-anchor="start" font-weight="normal" fill="#000" font-family="'Liberation Sans', Arial, Helvetica, sans-serif" transform="rotate(-90 920.2 495.2)">Normalized Speed</text>
<circle cx="1139.1" cy="93.3" r="9.2" fill="#fb3c3f"/>
<text x="1171.4" y="102.9" font-size="28.5" text-anchor="start" font-weight="normal" fill="#000" font-family="'Liberation Sans', Arial, Helvetica, sans-serif" >normal condition</text>
<circle cx="1139.1" cy="132.9" r="9.2" fill="#1a6fe0"/>
<text x="1171.4" y="142.5" font-size="28.5" text-anchor="start" font-weight="normal" fill="#000" font-family="'Liberation Sans', Arial, Helvetica, sans-serif" >Cu<tspan font-size="19" dy="-12">2+</tspan><tspan dy="12"></tspan></text>
<circle cx="1139.1" cy="172.3" r="9.2" fill="#df70fc"/>
<text x="1171.4" y="181.9" font-size="28.5" text-anchor="start" font-weight="normal" fill="#000" font-family="'Liberation Sans', Arial, Helvetica, sans-serif" >Cu<tspan font-size="19" dy="-12">2+</tspan><tspan dy="12"> + D-ZnF1</tspan></text>
<circle cx="1139.1" cy="211.7" r="9.2" fill="#008000"/>
<text x="1171.4" y="221.3" font-size="28.5" text-anchor="start" font-weight="normal" fill="#000" font-family="'Liberation Sans', Arial, Helvetica, sans-serif" >Cu<tspan font-size="19" dy="-12">2+</tspan><tspan dy="12"> + D-ZnF2</tspan></text>
<circle cx="1139.1" cy="251.3" r="9.2" fill="#808080"/>
<text x="1171.4" y="260.9" font-size="28.5" text-anchor="start" font-weight="normal" fill="#000" font-family="'Liberation Sans', Arial, Helvetica, sans-serif" >Cu<tspan font-size="19" dy="-12">2+</tspan><tspan dy="12"> + control peptide</tspan></text>
<text x="61.5" y="820.9" font-size="36.5" text-anchor="start" font-weight="bold" fill="#e07af5" font-family="'Liberation Sans', Arial, Helvetica, sans-serif" >ZnF1</text>
<text x="162.5" y="820.9" font-size="37" text-anchor="start" font-weight="normal" fill="#000" font-family="'Liberation Sans', Arial, Helvetica, sans-serif" >+ CuET (fresh, 50 eq)</text>
<text x="55.6" y="1103.7" font-size="23.1" text-anchor="start" font-weight="normal" fill="#000" font-family="'Liberation Sans', Arial, Helvetica, sans-serif" transform="rotate(-90 55.6 1103.7)">UV absorption 214 nm (au)</text>
<line x1="68" y1="827.2" x2="68" y2="1102.5" stroke="#000" stroke-width="2" stroke-linecap="butt"/>
<path d="M24,1169.9 L26,1169.9 L28.6,1169.8 L31.2,1169.8 L33.8,1169.7 L36.4,1169.7 L39,1169.6 L41.6,1169.5 L44.2,1169.5 L46.8,1169.4 L49.4,1169.3 L52,1169.2 L54.6,1169.1 L57.2,1169 L59.8,1168.8 L62.4,1168.6 L65,1168.5 L67.6,1168.3 L70.2,1168.1 L72.8,1168 L75.4,1167.9 L78,1167.9 L80.6,1167.9 L83.2,1167.9 L85.8,1168 L88.4,1168 L91,1168.1 L93.6,1168.1 L96.2,1168.1 L98.8,1168.1 L101.4,1168.1 L104,1168.1 L106.6,1168 L109.2,1168 L111.8,1168 L114.4,1168 L117,1168 L119.6,1168 L122.2,1168 L124.8,1168 L127.4,1168 L130,1167.9 L132.6,1167.9 L135.2,1167.8 L137.8,1167.7 L140.4,1167.6 L143,1167.5 L145.6,1167.4 L148.2,1167.3 L150.8,1167.3 L153.4,1167.3 L156,1167.4 L158.6,1167.5 L161.2,1167.5 L163.8,1167.6 L166.4,1167.7 L169,1167.8 L171.6,1167.8 L174.2,1167.8 L176.8,1167.7 L179.4,1167.7 L182,1167.6 L184.6,1167.5 L187.2,1167.3 L189.8,1167.1 L192.4,1166.8 L195,1166.5 L197.6,1166 L200.2,1165.4 L202.8,1164.5 L205.4,1163.3 L208,1161.2 L210.6,1157.1 L213.2,1147.9 L215.8,1128 L218.4,1089.4 L221,1027.9 L223.6,950.4 L226.2,880.9 L228.8,852 L231.4,871.6 L234,938.1 L236.6,1015.2 L239.2,1077.4 L241.8,1116.9 L244.4,1137.9 L247,1148.1 L249.6,1153.1 L252.2,1156 L254.8,1158 L257.4,1159.6 L260,1160.9 L262.6,1161.9 L265.2,1162.8 L267.8,1163.6 L270.4,1164.3 L273,1164.9 L275.6,1165.3 L278.2,1165.7 L280.8,1166 L283.4,1166.3 L286,1166.4 L288.6,1166.5 L291.2,1166.6 L293.8,1166.6 L296.4,1166.6 L299,1166.6 L301.6,1166.6 L304.2,1166.7 L306.8,1166.7 L309.4,1166.8 L312,1166.9 L314.6,1167 L317.2,1167.1 L319.8,1167.2 L322.4,1167.3 L325,1167.4 L327.6,1167.4 L330.2,1167.5 L332.8,1167.6 L335.4,1167.8 L338,1167.9 L340.6,1168.1 L343.2,1168.3 L345.8,1168.5 L348.4,1168.7 L351,1168.9 L353.6,1169 L356.2,1169.2 L358.8,1169.2 L361.4,1169.3 L364,1169.3 L366.6,1169.3 L369.2,1169.3 L371.8,1169.2 L374.4,1169.2 L377,1169.2 L379.6,1169.2 L382.2,1169.2 L384.8,1169.2 L387.4,1169.2 L390,1169.2 L392.6,1169.2 L395.2,1169.2 L397.8,1169.2 L400.4,1169.1 L403,1169.1 L405.6,1169.1 L408.2,1169 L410.8,1169 L413.4,1169.1 L415,1169.1" fill="none" stroke="#d1d2d4" stroke-width="7.0" stroke-linejoin="bevel"/>
<path d="M83,1229.2 L83.3,1229.2 L85.9,1229.2 L88.5,1229.2 L91.1,1229.2 L93.7,1229.1 L96.3,1229.1 L98.9,1229 L101.5,1229 L104.1,1228.9 L106.7,1228.9 L109.3,1228.9 L111.9,1228.8 L114.5,1228.8 L117.1,1228.7 L119.7,1228.6 L122.3,1228.4 L124.9,1228.3 L127.5,1228.1 L130.1,1227.9 L132.7,1227.7 L135.3,1227.6 L137.9,1227.5 L140.5,1227.4 L143.1,1227.4 L145.7,1227.4 L148.3,1227.4 L150.9,1227.5 L153.5,1227.5 L156.1,1227.6 L158.7,1227.7 L161.3,1227.7 L163.9,1227.8 L166.5,1227.9 L169.1,1227.9 L171.7,1228 L174.3,1228.1 L176.9,1228.2 L179.5,1228.3 L182.1,1228.4 L184.7,1228.5 L187.3,1228.6 L189.9,1228.7 L192.5,1228.8 L195.1,1228.8 L197.7,1228.8 L200.3,1228.8 L202.9,1228.7 L205.5,1228.6 L208.1,1228.5 L210.7,1228.4 L213.3,1228.3 L215.9,1228.3 L218.5,1228.2 L221.1,1228.2 L223.7,1228.2 L226.3,1228.2 L228.9,1228.2 L231.5,1228.2 L234.1,1228.2 L236.7,1228.1 L239.3,1228 L241.9,1227.9 L244.5,1227.7 L247.1,1227.5 L249.7,1227.4 L252.3,1227.1 L254.9,1226.8 L257.5,1226.5 L260.1,1226.1 L262.7,1225.5 L265.3,1224.6 L267.9,1223.5 L270.5,1221.5 L273.1,1217.6 L275.7,1209 L278.3,1190.1 L280.9,1153.7 L283.5,1095.5 L286.1,1022.3 L288.7,956.5 L291.3,929.1 L293.9,947.5 L296.5,1010.3 L299.1,1083 L301.7,1141.8 L304.3,1179 L306.9,1198.9 L309.5,1208.4 L312.1,1213.1 L314.7,1215.8 L317.3,1217.7 L319.9,1219.2 L322.5,1220.4 L325.1,1221.4 L327.7,1222.3 L330.3,1223.1 L332.9,1223.8 L335.5,1224.4 L338.1,1225 L340.7,1225.5 L343.3,1225.9 L345.9,1226.2 L348.5,1226.5 L351.1,1226.8 L353.7,1226.9 L356.3,1227 L358.9,1227.1 L361.5,1227.2 L364.1,1227.3 L366.7,1227.4 L369.3,1227.5 L371.9,1227.6 L374.5,1227.7 L377.1,1227.8 L379.7,1227.9 L382.3,1228 L384.9,1228 L387.5,1228.1 L390.1,1228.1 L392.7,1228.2 L395.3,1228.2 L397.9,1228.3 L400.5,1228.4 L403.1,1228.5 L405.7,1228.7 L408.3,1228.8 L410.9,1229 L413.5,1229.2 L416.1,1229.4 L418.7,1229.5 L421.3,1229.7 L423.9,1229.8 L426.5,1229.8 L429.1,1229.8 L431.7,1229.8 L434.3,1229.7 L436.9,1229.7 L439.5,1229.6 L442.1,1229.6 L444.7,1229.5 L447.3,1229.5 L449.9,1229.4 L452.5,1229.4 L455.1,1229.3 L457.7,1229.2 L460.3,1229.1 L462.9,1228.9 L465.5,1228.8 L468.1,1228.6 L470.7,1228.5 L473.3,1228.4 L475,1228.3" fill="none" stroke="#808285" stroke-width="7.0" stroke-linejoin="bevel"/>
<path d="M151,1297.8 L152.3,1297.8 L154.9,1297.8 L157.5,1297.7 L160.1,1297.6 L162.7,1297.6 L165.3,1297.5 L167.9,1297.5 L170.5,1297.5 L173.1,1297.6 L175.7,1297.6 L178.3,1297.7 L180.9,1297.7 L183.5,1297.8 L186.1,1297.8 L188.7,1297.8 L191.3,1297.8 L193.9,1297.8 L196.5,1297.9 L199.1,1297.9 L201.7,1297.9 L204.3,1298 L206.9,1298 L209.5,1298.1 L212.1,1298.1 L214.7,1298.2 L217.3,1298.2 L219.9,1298.2 L222.5,1298.1 L225.1,1298 L227.7,1297.9 L230.3,1297.7 L232.9,1297.5 L235.5,1297.3 L238.1,1297.1 L240.7,1297 L243.3,1296.8 L245.9,1296.7 L248.5,1296.6 L251.1,1296.5 L253.7,1296.4 L256.3,1296.3 L258.9,1296.2 L261.5,1296.1 L264.1,1296 L266.7,1296 L269.3,1295.9 L271.9,1295.8 L274.5,1295.8 L277.1,1295.8 L279.7,1295.8 L282.3,1295.9 L284.9,1295.9 L287.5,1296 L290.1,1296.1 L292.7,1296.1 L295.3,1296.1 L297.9,1296.1 L300.5,1296.1 L303.1,1296 L305.7,1295.8 L308.3,1295.6 L310.9,1295.4 L313.5,1295.2 L316.1,1295 L318.7,1294.7 L321.3,1294.4 L323.9,1294 L326.5,1293.5 L329.1,1292.9 L331.7,1292.1 L334.3,1291 L336.9,1289.1 L339.5,1285.4 L342.1,1277 L344.7,1258.5 L347.3,1222.9 L349.9,1165.8 L352.5,1093.9 L355.1,1029.4 L357.7,1002.7 L360.3,1021.1 L362.9,1083.2 L365.5,1155.1 L368.1,1213.2 L370.7,1250.1 L373.3,1269.7 L375.9,1279.3 L378.5,1284 L381.1,1286.7 L383.7,1288.6 L386.3,1290 L388.9,1291.1 L391.5,1292.1 L394.1,1292.8 L396.7,1293.5 L399.3,1294 L401.9,1294.5 L404.5,1294.8 L407.1,1295.1 L409.7,1295.3 L412.3,1295.4 L414.9,1295.5 L417.5,1295.6 L420.1,1295.6 L422.7,1295.6 L425.3,1295.6 L427.9,1295.7 L430.5,1295.7 L433.1,1295.8 L435.7,1295.9 L438.3,1296.1 L440.9,1296.2 L443.5,1296.3 L446.1,1296.4 L448.7,1296.5 L451.3,1296.5 L453.9,1296.6 L456.5,1296.6 L459.1,1296.6 L461.7,1296.5 L464.3,1296.5 L466.9,1296.5 L469.5,1296.5 L472.1,1296.6 L474.7,1296.6 L477.3,1296.6 L479.9,1296.6 L482.5,1296.6 L485.1,1296.6 L487.7,1296.5 L490.3,1296.5 L492.9,1296.4 L495.5,1296.3 L498.1,1296.3 L500.7,1296.3 L503.3,1296.3 L505.9,1296.3 L508.5,1296.4 L511.1,1296.6 L513.7,1296.7 L516.3,1296.9 L518.9,1297.1 L521.5,1297.2 L524.1,1297.4 L526.7,1297.5 L529.3,1297.6 L531.9,1297.7 L534.5,1297.8 L537.1,1297.9 L539.7,1298 L542.3,1298.1 L542.7,1298.1" fill="none" stroke="#000000" stroke-width="7.0" stroke-linejoin="bevel"/>
<text x="20.5" y="1155.6" font-size="30" text-anchor="start" font-weight="normal" fill="#000" font-family="'Liberation Sans', Arial, Helvetica, sans-serif" >0 min</text>
<text x="80.5" y="1212" font-size="30" text-anchor="start" font-weight="normal" fill="#000" font-family="'Liberation Sans', Arial, Helvetica, sans-serif" >5 min</text>
<text x="146.5" y="1279" font-size="30" text-anchor="start" font-weight="normal" fill="#000" font-family="'Liberation Sans', Arial, Helvetica, sans-serif" >60 min</text>
<text x="147.7" y="1335" font-size="29.5" text-anchor="middle" font-weight="normal" fill="#000" font-family="'Liberation Sans', Arial, Helvetica, sans-serif" >15</text>
<text x="542" y="1335" font-size="29.5" text-anchor="middle" font-weight="normal" fill="#000" font-family="'Liberation Sans', Arial, Helvetica, sans-serif" >20</text>
<text x="222.5" y="1352.6" font-size="31" text-anchor="start" font-weight="normal" fill="#000" font-family="'Liberation Sans', Arial, Helvetica, sans-serif" >Elution Time (Min)</text>
<text x="552.5" y="820.9" font-size="36.5" text-anchor="start" font-weight="bold" fill="#138a13" font-family="'Liberation Sans', Arial, Helvetica, sans-serif" >ZnF2</text>
<text x="651.5" y="820.9" font-size="37" text-anchor="start" font-weight="normal" fill="#000" font-family="'Liberation Sans', Arial, Helvetica, sans-serif" >+ CuET (fresh, 50eq)</text>
<path d="M497,1167.5 L499,1167.5 L501.6,1167.5 L504.2,1167.6 L506.8,1167.6 L509.4,1167.7 L512,1167.7 L514.6,1167.8 L517.2,1167.8 L519.8,1167.9 L522.4,1167.9 L525,1167.8 L527.6,1167.8 L530.2,1167.7 L532.8,1167.7 L535.4,1167.6 L538,1167.6 L540.6,1167.6 L543.2,1167.7 L545.8,1167.8 L548.4,1167.9 L551,1168 L553.6,1168.1 L556.2,1168.3 L558.8,1168.4 L561.4,1168.5 L564,1168.5 L566.6,1168.6 L569.2,1168.6 L571.8,1168.6 L574.4,1168.6 L577,1168.6 L579.6,1168.6 L582.2,1168.6 L584.8,1168.6 L587.4,1168.6 L590,1168.5 L592.6,1168.5 L595.2,1168.4 L597.8,1168.3 L600.4,1168.1 L603,1167.9 L605.6,1167.7 L608.2,1167.5 L610.8,1167.3 L613.4,1167.1 L616,1166.9 L618.6,1166.8 L621.2,1166.7 L623.8,1166.6 L626.4,1166.6 L629,1166.6 L631.6,1166.6 L634.2,1166.5 L636.8,1166.5 L639.4,1166.4 L642,1166.4 L644.6,1166.3 L647.2,1166.2 L649.8,1166.2 L652.4,1166.1 L655,1166.1 L657.6,1166 L660.2,1166 L662.8,1165.9 L665.4,1165.8 L668,1165.7 L670.6,1165.5 L673.2,1165.2 L675.8,1164.9 L678.4,1164.4 L681,1163.8 L683.6,1163.1 L686.2,1161.6 L688.8,1157.4 L691.4,1151.5 L694,1152 L696.6,1152.6 L699.2,1145 L701.8,1125.5 L704.4,1087.5 L707,1026.4 L709.6,949.4 L712.2,880.3 L714.8,851.7 L717.4,871.3 L720,937.7 L722.6,1014.7 L725.2,1076.8 L727.8,1116.3 L730.4,1137.4 L733,1147.7 L735.6,1152.9 L738.2,1156 L740.8,1158.2 L743.4,1159.9 L746,1161.2 L748.6,1162.3 L751.2,1163.2 L753.8,1163.9 L756.4,1164.5 L759,1164.9 L761.6,1165.3 L764.2,1165.5 L766.8,1165.8 L769.4,1166 L772,1166.1 L774.6,1166.3 L777.2,1166.4 L779.8,1166.6 L782.4,1166.7 L785,1166.7 L787.6,1166.8 L790.2,1166.8 L792.8,1166.8 L795.4,1166.8 L798,1166.8 L800.6,1166.8 L803.2,1166.9 L805.8,1166.9 L808.4,1167 L811,1167.1 L813.6,1167.2 L816.2,1167.3 L818.8,1167.3 L821.4,1167.4 L824,1167.4 L826.6,1167.4 L829.2,1167.3 L831.8,1167.2 L834.4,1167.1 L837,1167 L839.6,1166.9 L842.2,1166.9 L844.8,1166.8 L847.4,1166.7 L850,1166.7 L852.6,1166.7 L855.2,1166.7 L857.8,1166.7 L860.4,1166.7 L863,1166.6 L865.6,1166.6 L868.2,1166.6 L870.8,1166.6 L873.4,1166.6 L876,1166.7 L878.6,1166.7 L881.2,1166.9 L883.8,1167 L886.4,1167.2 L889,1167.4 L890.7,1167.5" fill="none" stroke="#d1d2d4" stroke-width="7.0" stroke-linejoin="bevel"/>
<path d="M558.4,1225.9 L560.9,1225.8 L563.5,1225.7 L566.1,1225.6 L568.7,1225.5 L571.3,1225.5 L573.9,1225.5 L576.5,1225.6 L579.1,1225.6 L581.7,1225.6 L584.3,1225.7 L586.9,1225.7 L589.5,1225.7 L592.1,1225.8 L594.7,1225.8 L597.3,1225.8 L599.9,1225.9 L602.5,1226 L605.1,1226.1 L607.7,1226.2 L610.3,1226.3 L612.9,1226.4 L615.5,1226.5 L618.1,1226.6 L620.7,1226.6 L623.3,1226.6 L625.9,1226.5 L628.5,1226.5 L631.1,1226.4 L633.7,1226.4 L636.3,1226.3 L638.9,1226.3 L641.5,1226.3 L644.1,1226.3 L646.7,1226.3 L649.3,1226.4 L651.9,1226.5 L654.5,1226.6 L657.1,1226.6 L659.7,1226.7 L662.3,1226.8 L664.9,1226.8 L667.5,1226.8 L670.1,1226.9 L672.7,1226.9 L675.3,1227 L677.9,1227 L680.5,1227.1 L683.1,1227.2 L685.7,1227.3 L688.3,1227.3 L690.9,1227.4 L693.5,1227.4 L696.1,1227.3 L698.7,1227.2 L701.3,1227.1 L703.9,1226.9 L706.5,1226.7 L709.1,1226.4 L711.7,1226.2 L714.3,1226 L716.9,1225.7 L719.5,1225.5 L722.1,1225.3 L724.7,1225 L727.3,1224.8 L729.9,1224.5 L732.5,1224.2 L735.1,1223.8 L737.7,1223.3 L740.3,1222.7 L742.9,1221.8 L745.5,1219.2 L748.1,1212.5 L750.7,1208.9 L753.3,1212.9 L755.9,1212.7 L758.5,1204.9 L761.1,1186.1 L763.7,1149.5 L766.3,1090.8 L768.9,1016.9 L771.5,950.4 L774.1,922.9 L776.7,941.6 L779.3,1005.3 L781.9,1079 L784.5,1138.5 L787.1,1176.3 L789.7,1196.4 L792.3,1206.1 L794.9,1210.9 L797.5,1213.8 L800.1,1215.7 L802.7,1217.3 L805.3,1218.6 L807.9,1219.6 L810.5,1220.5 L813.1,1221.2 L815.7,1221.8 L818.3,1222.4 L820.9,1222.8 L823.5,1223.3 L826.1,1223.7 L828.7,1224.1 L831.3,1224.5 L833.9,1224.9 L836.5,1225.3 L839.1,1225.7 L841.7,1226 L844.3,1226.3 L846.9,1226.5 L849.5,1226.7 L852.1,1226.8 L854.7,1226.9 L857.3,1227 L859.9,1227.1 L862.5,1227.1 L865.1,1227.1 L867.7,1227.1 L870.3,1227.1 L872.9,1227.2 L875.5,1227.2 L878.1,1227.1 L880.7,1227.1 L883.3,1227.1 L885.9,1227 L888.5,1226.9 L891.1,1226.8 L893.7,1226.6 L896.3,1226.5 L898.9,1226.4 L901.5,1226.4 L904.1,1226.4 L906.7,1226.4 L909.3,1226.4 L911.9,1226.4 L914.5,1226.5 L917.1,1226.6 L919.7,1226.6 L922.3,1226.6 L924.9,1226.6 L927.5,1226.6 L930.1,1226.6 L932.7,1226.5 L935.3,1226.4 L937.9,1226.4 L940.5,1226.3 L943.1,1226.3 L945.7,1226.2 L948.3,1226.2 L950.9,1226.2 L951.4,1226.2" fill="none" stroke="#808285" stroke-width="7.0" stroke-linejoin="bevel"/>
<path d="M626.5,1296 L627,1296 L629.6,1296 L632.2,1296 L634.8,1296 L637.4,1295.9 L640,1295.8 L642.6,1295.8 L645.2,1295.7 L647.8,1295.7 L650.4,1295.7 L653,1295.7 L655.6,1295.8 L658.2,1295.8 L660.8,1295.9 L663.4,1296 L666,1296.1 L668.6,1296.2 L671.2,1296.2 L673.8,1296.2 L676.4,1296.2 L679,1296.1 L681.6,1296.1 L684.2,1296 L686.8,1295.9 L689.4,1295.8 L692,1295.8 L694.6,1295.7 L697.2,1295.6 L699.8,1295.6 L702.4,1295.5 L705,1295.3 L707.6,1295.2 L710.2,1295 L712.8,1294.8 L715.4,1294.6 L718,1294.5 L720.6,1294.3 L723.2,1294.2 L725.8,1294.1 L728.4,1294 L731,1294 L733.6,1294 L736.2,1294 L738.8,1294.1 L741.4,1294.1 L744,1294.2 L746.6,1294.3 L749.2,1294.3 L751.8,1294.3 L754.4,1294.3 L757,1294.3 L759.6,1294.3 L762.2,1294.4 L764.8,1294.4 L767.4,1294.4 L770,1294.4 L772.6,1294.5 L775.2,1294.5 L777.8,1294.5 L780.4,1294.4 L783,1294.3 L785.6,1294.2 L788.2,1294 L790.8,1293.8 L793.4,1293.5 L796,1293.2 L798.6,1292.9 L801.2,1292.6 L803.8,1292.2 L806.4,1291.6 L809,1290.1 L811.6,1284.4 L814.2,1276.4 L816.8,1279.2 L819.4,1284.3 L822,1282.5 L824.6,1273.7 L827.2,1253.8 L829.8,1215.1 L832.4,1152.9 L835,1074.7 L837.6,1004.5 L840.2,975.4 L842.8,995.3 L845.4,1062.8 L848,1140.9 L850.6,1203.9 L853.2,1244 L855.8,1265.3 L858.4,1275.5 L861,1280.2 L863.6,1282 L866.2,1281.6 L868.8,1281.8 L871.4,1285 L874,1287.9 L876.6,1289.4 L879.2,1290.1 L881.8,1290.7 L884.4,1291.2 L887,1291.6 L889.6,1292 L892.2,1292.3 L894.8,1292.6 L897.4,1292.8 L900,1293 L902.6,1293.1 L905.2,1293.3 L907.8,1293.4 L910.4,1293.5 L913,1293.6 L915.6,1293.7 L918.2,1293.9 L920.8,1294.1 L923.4,1294.2 L926,1294.4 L928.6,1294.5 L931.2,1294.6 L933.8,1294.6 L936.4,1294.6 L939,1294.6 L941.6,1294.6 L944.2,1294.5 L946.8,1294.5 L949.4,1294.4 L952,1294.4 L954.6,1294.4 L957.2,1294.4 L959.8,1294.4 L962.4,1294.5 L965,1294.6 L967.6,1294.6 L970.2,1294.7 L972.8,1294.7 L975.4,1294.8 L978,1294.8 L980.6,1294.9 L983.2,1295 L985.8,1295.1 L988.4,1295.2 L991,1295.3 L993.6,1295.5 L996.2,1295.7 L998.8,1295.9 L1001.4,1296.1 L1004,1296.2 L1006.6,1296.4 L1009.2,1296.5 L1011.8,1296.5 L1014.4,1296.5 L1017,1296.5 L1017.4,1296.5" fill="none" stroke="#000000" stroke-width="7.0" stroke-linejoin="bevel"/>
<text x="494" y="1155.6" font-size="30" text-anchor="start" font-weight="normal" fill="#000" font-family="'Liberation Sans', Arial, Helvetica, sans-serif" >0 min</text>
<text x="554" y="1212" font-size="30" text-anchor="start" font-weight="normal" fill="#000" font-family="'Liberation Sans', Arial, Helvetica, sans-serif" >5 min</text>
<text x="619.5" y="1279" font-size="30" text-anchor="start" font-weight="normal" fill="#000" font-family="'Liberation Sans', Arial, Helvetica, sans-serif" >60 min</text>
<text x="620.6" y="1335" font-size="29.5" text-anchor="middle" font-weight="normal" fill="#000" font-family="'Liberation Sans', Arial, Helvetica, sans-serif" >20</text>
<text x="1016.7" y="1335" font-size="29.5" text-anchor="middle" font-weight="normal" fill="#000" font-family="'Liberation Sans', Arial, Helvetica, sans-serif" >25</text>
<text x="699.6" y="1352.6" font-size="31" text-anchor="start" font-weight="normal" fill="#000" font-family="'Liberation Sans', Arial, Helvetica, sans-serif" >Elution Time (Min)</text>
<text x="1134.5" y="820.9" font-size="36.5" text-anchor="start" font-weight="bold" fill="#e07af5" font-family="'Liberation Sans', Arial, Helvetica, sans-serif" >ZnF1</text>
<text x="1234" y="820.9" font-size="37" text-anchor="start" font-weight="normal" fill="#000" font-family="'Liberation Sans', Arial, Helvetica, sans-serif" >+ Cu</text>
<text x="1313" y="808.2" font-size="21" text-anchor="start" font-weight="normal" fill="#000" font-family="'Liberation Sans', Arial, Helvetica, sans-serif" >2+</text>
<text x="1344" y="820.9" font-size="37" text-anchor="start" font-weight="normal" fill="#000" font-family="'Liberation Sans', Arial, Helvetica, sans-serif" >(15 min)</text>
<text x="1073.8" y="1103.7" font-size="23.1" text-anchor="start" font-weight="normal" fill="#000" font-family="'Liberation Sans', Arial, Helvetica, sans-serif" transform="rotate(-90 1073.8 1103.7)">UV absorption 214 nm (au)</text>
<line x1="1085.4" y1="827.2" x2="1085.4" y2="1102.5" stroke="#000" stroke-width="2" stroke-linecap="butt"/>
<path d="M1038.1,1170.1 L1039.1,1170.1 L1040.1,1170.1 L1041.1,1170.2 L1042.1,1170.2 L1043.1,1170.2 L1044.1,1170.2 L1045.1,1170.3 L1046.1,1170.3 L1047.1,1170.3 L1048.1,1170.4 L1049.1,1170.4 L1050.1,1170.4 L1051.1,1170.4 L1052.1,1170.5 L1053.1,1170.5 L1054.1,1170.5 L1055.1,1170.6 L1056.1,1170.6 L1057.1,1170.6 L1058.1,1170.6 L1059,1170.7 L1060,1170.7 L1061,1170.7 L1062,1170.7 L1063,1170.8 L1064,1170.8 L1065,1170.8 L1066,1170.8 L1067,1170.9 L1068,1170.9 L1069,1170.9 L1070,1170.9 L1071,1170.9 L1072,1170.9 L1073,1171 L1074,1171 L1075,1171 L1076,1171 L1077,1171 L1078,1171 L1079,1171 L1080,1171 L1081,1171 L1082,1171 L1083,1171 L1084,1171 L1085,1171 L1085.9,1171 L1086.9,1171 L1087.9,1171 L1088.9,1171 L1089.9,1171 L1090.9,1171 L1091.9,1171 L1092.9,1171 L1093.9,1171 L1094.9,1171 L1095.9,1171 L1096.8,1171 L1097.8,1171 L1098.8,1171 L1099.8,1171 L1100.8,1171 L1101.8,1171 L1102.8,1171 L1103.8,1171 L1104.8,1171 L1105.8,1170.9 L1106.8,1170.9 L1107.7,1170.9 L1108.7,1170.9 L1109.7,1170.9 L1110.7,1170.9 L1111.7,1170.9 L1112.7,1170.9 L1113.7,1170.9 L1114.7,1170.9 L1115.7,1170.9 L1116.7,1170.9 L1117.7,1170.9 L1118.6,1170.9 L1119.6,1170.8 L1120.6,1170.8 L1121.6,1170.8 L1122.6,1170.8 L1123.6,1170.8 L1124.6,1170.7 L1125.6,1170.4 L1126.6,1170.1 L1127.6,1169.7 L1128.6,1169.4 L1129.6,1169.1 L1130.6,1169 L1131.5,1169 L1132.5,1169.2 L1133.4,1169.3 L1134.4,1169.5 L1135.3,1169.8 L1136.2,1170 L1137.2,1170.2 L1138.1,1170.3 L1139.1,1170.5 L1140,1170.5 L1141,1170.5 L1142,1170.5 L1143,1170.5 L1144,1170.5 L1145,1170.4 L1145.9,1170.4 L1146.9,1170.4 L1147.9,1170.3 L1148.9,1170.3 L1149.9,1170.2 L1150.9,1170.2 L1151.9,1170.1 L1152.9,1170.1 L1153.9,1170 L1154.9,1169.9 L1155.9,1169.9 L1156.8,1169.8 L1157.8,1169.7 L1158.8,1169.6 L1159.8,1169.6 L1160.8,1169.5 L1161.8,1169.4 L1162.8,1169.3 L1163.8,1169.3 L1164.8,1169.2 L1165.8,1169.1 L1166.8,1169 L1167.7,1169 L1168.7,1168.9 L1169.7,1168.8 L1170.7,1168.7 L1171.7,1168.7 L1172.7,1168.6 L1173.7,1168.5 L1174.7,1168.4 L1175.7,1168.4 L1176.7,1168.3 L1177.7,1168.3 L1178.6,1168.2 L1179.6,1168.2 L1180.6,1168.1 L1181.6,1168.1 L1182.6,1168 L1183.6,1168 L1184.5,1168 L1185.4,1168 L1186.4,1167.9 L1187.3,1167.9 L1188.2,1167.9 L1189.1,1167.9 L1190.1,1167.9 L1191,1167.8 L1191.9,1167.8 L1192.8,1167.7 L1193.7,1167.5 L1194.6,1167.1 L1195.5,1166.7 L1196.4,1166.2 L1197.3,1165.7 L1198.2,1165.1 L1199.1,1164.5 L1200,1164 L1201,1163.4 L1202,1162.9 L1202.9,1162.3 L1203.9,1161.6 L1204.9,1160.9 L1205.8,1160 L1206.8,1159 L1207.8,1157.8 L1208.7,1156.2 L1209.5,1153.9 L1210.4,1151 L1211.3,1147.7 L1212.1,1144 L1213,1140 L1214,1133.8 L1214.9,1125.2 L1215.8,1115.8 L1216.8,1107.1 L1217.8,1100.7 L1218.7,1098.2 L1219.7,1098.3 L1220.7,1098.7 L1221.7,1099.3 L1222.7,1100.1 L1223.7,1101.1 L1224.7,1102.2 L1225.6,1104.8 L1226.5,1109.9 L1227.3,1116.4 L1228.2,1123.5 L1229.1,1130 L1230,1135 L1230.9,1139.4 L1231.9,1143.8 L1232.8,1148.1 L1233.8,1151.9 L1234.7,1155 L1235.7,1157.1 L1236.6,1157.8 L1237.6,1157.7 L1238.6,1157.2 L1239.6,1156.4 L1240.6,1155.3 L1241.6,1153.9 L1242.6,1152.1 L1243.6,1149.9 L1244.4,1141.1 L1245.3,1122.6 L1246.2,1100.3 L1247,1080 L1247.9,1058.8 L1248.8,1035.5 L1249.6,1016.7 L1250.5,1008.9 L1251.5,1009.1 L1252.5,1009.6 L1253.5,1010.4 L1254.5,1011.5 L1255.5,1012.8 L1256.4,1016.3 L1257.4,1023.6 L1258.3,1033.6 L1259.2,1045.3 L1260.1,1057.6 L1261.1,1069.5 L1262,1080 L1263,1091.1 L1264,1103.2 L1265,1115.3 L1266,1126.2 L1267,1134.8 L1268,1140 L1269,1143 L1270,1145.7 L1271,1148 L1272,1150.1 L1273,1151.7 L1274,1153 L1275,1153.7 L1276,1154 L1277,1153.7 L1278,1152.8 L1279,1151.5 L1280,1149.7 L1281,1147.6 L1282,1145.2 L1283,1142.7 L1284,1140 L1284.9,1137.2 L1285.8,1133.7 L1286.7,1129.5 L1287.6,1124.6 L1288.5,1119 L1289.4,1112.7 L1290.3,1105.8 L1291.2,1098.2 L1292.2,1088.1 L1293.1,1075.2 L1294.1,1059.6 L1295.1,1041.7 L1296,1021.7 L1297,1000 L1297.9,972.3 L1298.8,936.6 L1299.6,902.6 L1300.5,880 L1301.4,866.5 L1302.3,856.1 L1303.2,851.9 L1304.2,852.1 L1305.2,852.9 L1306.1,854.1 L1307.1,855.8 L1308.1,857.9 L1309.1,869.9 L1310,896 L1311,928.6 L1312,960 L1313,992.1 L1314,1027.5 L1315,1061.7 L1316,1090 L1317,1114.8 L1318,1136.5 L1319,1147.9 L1320,1151.4 L1321,1154.2 L1322,1156.4 L1323,1158.1 L1324,1159.4 L1325,1160.3 L1326,1161 L1327,1161.5 L1328,1162 L1329,1162.5 L1330,1162.8 L1330.9,1163.2 L1331.9,1163.4 L1332.9,1163.6 L1333.9,1163.8 L1334.9,1163.8 L1335.9,1163.6 L1336.9,1163.2 L1337.9,1162.6 L1338.9,1161.8 L1339.9,1160.8 L1340.9,1159.8 L1341.9,1158.9 L1342.9,1157.9 L1343.9,1157.1 L1344.9,1156.5 L1345.9,1156.1 L1346.9,1155.9 L1347.9,1156.1 L1348.9,1156.8 L1349.9,1157.7 L1350.9,1159 L1351.9,1160.4 L1352.8,1161.8 L1353.8,1163.3 L1354.8,1164.7 L1355.8,1165.9 L1356.8,1166.9 L1357.8,1167.5 L1358.8,1167.8 L1359.8,1167.8 L1360.7,1167.8 L1361.7,1167.9 L1362.7,1167.9 L1363.6,1167.9 L1364.6,1167.9 L1365.5,1167.9 L1366.5,1167.9 L1367.5,1167.9 L1368.4,1167.9 L1369.4,1168 L1370.4,1168 L1371.3,1168 L1372.3,1168 L1373.3,1168 L1374.2,1168 L1375.2,1168 L1376.1,1168 L1377.1,1168 L1378.1,1168 L1379,1168 L1380,1168 L1381,1168 L1381.9,1168 L1382.9,1168 L1383.9,1168 L1384.9,1168 L1385.8,1168 L1386.8,1168 L1387.8,1168 L1388.8,1168 L1389.7,1167.9 L1390.7,1167.9 L1391.7,1167.9 L1392.7,1167.9 L1393.6,1167.9 L1394.6,1167.9 L1395.6,1167.9 L1396.6,1167.8 L1397.5,1167.8 L1398.5,1167.8 L1399.5,1167.7 L1400.5,1167.3 L1401.5,1166.8 L1402.5,1166.2 L1403.5,1165.4 L1404.5,1164.6 L1405.5,1163.8 L1406.4,1162.9 L1407.4,1162.1 L1408.4,1161.4 L1409.4,1160.7 L1410.4,1160.2 L1411.4,1159.9 L1412.4,1159.8 L1413.4,1159.9 L1414.4,1160.2 L1415.4,1160.7 L1416.4,1161.3 L1417.4,1162 L1418.4,1162.8 L1419.4,1163.6 L1420.4,1164.4 L1421.4,1165.1 L1422.4,1165.8" fill="none" stroke="#d1d2d4" stroke-width="6" stroke-linejoin="bevel"/>
<path d="M1101.7,1231.5 L1102.7,1231.5 L1103.6,1231.4 L1104.6,1231.4 L1105.6,1231.4 L1106.5,1231.3 L1107.5,1231.3 L1108.4,1231.3 L1109.4,1231.3 L1110.4,1231.2 L1111.3,1231.2 L1112.3,1231.2 L1113.3,1231.2 L1114.2,1231.1 L1115.2,1231.1 L1116.1,1231 L1117.1,1231 L1118.1,1230.9 L1119,1230.9 L1120,1230.8 L1121,1230.6 L1122,1230.3 L1123,1229.8 L1124,1229.1 L1125,1228.4 L1126,1227.5 L1127,1226.7 L1128,1225.8 L1129,1224.9 L1130,1224 L1131,1223.2 L1132,1222.5 L1133,1221.9 L1134,1221.4 L1135,1221.1 L1136,1221 L1136.9,1221.2 L1137.9,1221.6 L1138.8,1222.3 L1139.8,1223.2 L1140.7,1224.2 L1141.7,1225.3 L1142.6,1226.5 L1143.6,1227.6 L1144.5,1228.6 L1145.5,1229.5 L1146.4,1230.2 L1147.4,1230.6 L1148.3,1230.8 L1149.3,1230.8 L1150.3,1230.8 L1151.3,1230.8 L1152.3,1230.8 L1153.3,1230.8 L1154.3,1230.8 L1155.3,1230.8 L1156.3,1230.8 L1157.3,1230.8 L1158.2,1230.8 L1159.2,1230.7 L1160.2,1230.7 L1161.2,1230.7 L1162.2,1230.7 L1163.2,1230.7 L1164.2,1230.7 L1165.2,1230.7 L1166.2,1230.6 L1167.2,1230.6 L1168.2,1230.6 L1169.2,1230.6 L1170.2,1230.6 L1171.2,1230.5 L1172.2,1230.5 L1173.2,1230.5 L1174.2,1230.5 L1175.2,1230.4 L1176.2,1230.4 L1177.2,1230.4 L1178.1,1230.3 L1179.1,1230.3 L1180.1,1230.3 L1181.1,1230.2 L1182.1,1230.2 L1183.1,1230.2 L1184.1,1230.1 L1185.1,1230.1 L1186.1,1230 L1187.1,1230 L1188.1,1229.9 L1189.1,1229.7 L1190.1,1229.3 L1191.1,1228.9 L1192.1,1228.5 L1193.1,1227.9 L1194.1,1227.4 L1195,1226.8 L1196,1226.2 L1197,1225.7 L1198,1225.2 L1199,1224.7 L1200,1224.4 L1201,1224.1 L1202,1223.9 L1203,1223.8 L1204,1223.9 L1204.9,1224 L1205.9,1224.3 L1206.8,1224.6 L1207.8,1225 L1208.7,1225.3 L1209.7,1225.8 L1210.6,1226.1 L1211.6,1226.5 L1212.5,1226.8 L1213.5,1227.1 L1214.4,1227.2 L1215.4,1227.3 L1216.3,1227.2 L1217.3,1226.9 L1218.2,1226.5 L1219.2,1225.9 L1220.1,1225.3 L1221,1224.6 L1222,1223.8 L1222.9,1223 L1223.9,1222.2 L1224.8,1221.5 L1225.7,1220.9 L1226.7,1220.3 L1227.6,1219.9 L1228.6,1219.6 L1229.5,1219.5 L1230.5,1219.5 L1231.4,1219.6 L1232.4,1219.8 L1233.4,1219.9 L1234.3,1220.1 L1235.3,1220.3 L1236.2,1220.5 L1237.2,1220.6 L1238.2,1220.8 L1239.1,1220.9 L1240.1,1220.9 L1241.1,1220.8 L1242,1220.6 L1243,1220.2 L1244,1219.7 L1244.9,1219 L1245.9,1218.3 L1246.8,1217.4 L1247.8,1216.5 L1248.8,1215.4 L1249.7,1214.4 L1250.7,1213.2 L1251.6,1211.8 L1252.5,1210 L1253.4,1207.7 L1254.3,1205.1 L1255.2,1202 L1256.1,1198.7 L1257,1195 L1257.9,1190.7 L1258.8,1185.2 L1259.6,1178.7 L1260.5,1171.5 L1261.4,1163.8 L1262.3,1154.8 L1263.2,1144.3 L1264.1,1132.6 L1265,1120 L1265.8,1108 L1266.6,1094.4 L1267.4,1078.4 L1268.3,1053 L1269.1,1022.8 L1270,1000 L1270.8,985.3 L1271.7,972.2 L1272.6,962.8 L1273.4,959.2 L1274.4,959.5 L1275.3,960.3 L1276.3,961.6 L1277.3,963.2 L1278.3,969.3 L1279.3,981.2 L1280.3,994.9 L1281.3,1006.1 L1282.3,1010.8 L1283.3,1010.4 L1284.3,1009.4 L1285.3,1007.7 L1286.3,1005.5 L1287.3,1002.9 L1288.3,994.8 L1289.2,980.7 L1290.2,967.2 L1291.2,961.2 L1292.2,961.4 L1293.2,961.9 L1294.2,962.7 L1295.2,963.8 L1296.2,965.1 L1297.2,971.2 L1298.1,984.9 L1299.1,1003.3 L1300.1,1023.8 L1301,1043.7 L1302,1060 L1302.9,1073.5 L1303.8,1088 L1304.7,1102.9 L1305.6,1117.4 L1306.5,1130.8 L1307.4,1142.4 L1308.3,1151.6 L1309.2,1157.6 L1310.1,1159.8 L1311.1,1159.7 L1312.1,1159.2 L1313.1,1158.5 L1314.1,1157.4 L1315.1,1155.9 L1316.1,1141 L1317,1110.4 L1318,1080 L1319,1049.8 L1320,1016.7 L1321,990 L1322,979.1 L1323,979.5 L1324,980.6 L1325,982.3 L1326,984.5 L1327,987 L1328,992.9 L1329,1004.2 L1330,1019 L1331,1035.3 L1332,1051.3 L1333,1065.1 L1334,1074.8 L1335,1078.4 L1336,1073.9 L1337,1064 L1337.9,1054.1 L1338.9,1049.6 L1339.9,1049.8 L1340.9,1050.3 L1341.9,1051.1 L1342.9,1052.1 L1343.9,1053.2 L1344.9,1054.5 L1345.9,1056.6 L1346.9,1060.2 L1347.9,1064.8 L1348.9,1070 L1349.8,1075.4 L1350.8,1080.5 L1351.8,1085 L1352.8,1088.4 L1353.8,1090.3 L1354.8,1091 L1355.8,1091.5 L1356.8,1092.3 L1357.7,1095.1 L1358.5,1100.9 L1359.4,1108.4 L1360.3,1116.6 L1361.1,1124.1 L1362,1130 L1363,1135 L1363.9,1139.8 L1364.9,1144.3 L1365.8,1148.5 L1366.8,1152.1 L1367.7,1155.3 L1368.7,1157.8 L1369.6,1159.9 L1370.6,1161.8 L1371.5,1163.6 L1372.4,1165.3 L1373.3,1166.8 L1374.3,1168.2 L1375.2,1169.4 L1376.1,1170.4 L1377.1,1171.3 L1378,1172 L1379,1172.6 L1379.9,1173.2 L1380.9,1173.8 L1381.8,1174.3 L1382.8,1174.8 L1383.7,1175.2 L1384.7,1175.5 L1385.6,1175.6 L1386.6,1175.7 L1387.6,1175.3 L1388.6,1174.4 L1389.6,1173.2 L1390.6,1172 L1391.6,1171.1 L1392.6,1170.7 L1393.6,1171 L1394.6,1171.8 L1395.5,1172.9 L1396.5,1174.4 L1397.5,1176 L1398.5,1177.7 L1399.5,1180 L1400.5,1183.2 L1401.5,1186.9 L1402.5,1190.8 L1403.5,1194.5 L1404.5,1197.6 L1405.3,1200.1 L1406.2,1202.8 L1407,1205.3 L1407.9,1207.5 L1408.8,1209 L1409.6,1209.6 L1410.6,1209.2 L1411.6,1208.3 L1412.5,1206.9 L1413.5,1205.2 L1414.5,1203.4 L1415.5,1201.7 L1416.4,1200.3 L1417.4,1199.4 L1418.4,1199 L1419.3,1199.9 L1420.2,1202.2 L1421.1,1205.3 L1421.9,1208.5 L1422.8,1211.4 L1423.7,1213.2 L1424.6,1214.4 L1425.6,1215.5 L1426.5,1216.5 L1427.5,1217.5 L1428.4,1218.4 L1429.4,1219.3 L1430.3,1220 L1431.3,1220.7 L1432.2,1221.4 L1433.2,1222 L1434.1,1222.5 L1435.1,1222.9 L1436,1223.3 L1437,1223.6 L1437.9,1223.8 L1438.9,1224 L1439.9,1224.2 L1440.9,1224.4 L1441.9,1224.6 L1442.8,1224.8 L1443.8,1224.9 L1444.8,1225.1 L1445.8,1225.2 L1446.8,1225.4 L1447.8,1225.5 L1448.8,1225.7 L1449.8,1225.8 L1450.7,1225.9 L1451.7,1226 L1452.7,1226.1 L1453.7,1226.2 L1454.7,1226.3 L1455.7,1226.4 L1456.7,1226.4 L1457.7,1226.5 L1458.6,1226.5 L1459.6,1226.6 L1460.6,1226.6 L1461.6,1226.6 L1462.6,1226.6 L1463.6,1226.6 L1464.5,1226.5 L1465.5,1226.4 L1466.4,1226.3 L1467.4,1226.2 L1468.3,1226 L1469.3,1225.8 L1470.2,1225.5 L1471.2,1225.2 L1472.1,1224.9 L1473.1,1224.6 L1474,1224.2 L1475,1223.8 L1476,1222.6 L1477,1220.2 L1478,1217.1 L1479,1213.8 L1480,1210.9 L1481,1208.7 L1482,1207.9 L1483,1208.1 L1484,1208.5 L1485,1209.3 L1486,1210.4 L1487,1211.7 L1488,1213.2 L1489,1215 L1489.8,1218 L1490.7,1222.6 L1491.5,1227.3" fill="none" stroke="#808285" stroke-width="6" stroke-linejoin="bevel"/>
<path d="M1163.1,1297.9 L1164.1,1297.8 L1165.1,1297.8 L1166,1297.7 L1167,1297.6 L1168,1297.6 L1169,1297.5 L1169.9,1297.5 L1170.9,1297.4 L1171.9,1297.4 L1172.9,1297.3 L1173.8,1297.2 L1174.8,1297.2 L1175.8,1297.1 L1176.8,1297 L1177.7,1296.9 L1178.7,1296.8 L1179.7,1296.7 L1180.7,1296.6 L1181.6,1296.5 L1182.6,1296.4 L1183.6,1296.2 L1184.5,1296 L1185.5,1295.6 L1186.4,1295 L1187.3,1294.3 L1188.3,1293.6 L1189.2,1292.8 L1190.1,1291.9 L1191.1,1290.9 L1192,1290 L1192.9,1288.8 L1193.9,1287.1 L1194.8,1285.3 L1195.8,1283.3 L1196.7,1281.5 L1197.6,1279.9 L1198.6,1278.9 L1199.5,1278.5 L1200.4,1279 L1201.3,1280.4 L1202.2,1282.3 L1203.2,1284.4 L1204.1,1286.4 L1205,1288 L1206,1289.5 L1207,1291 L1208,1292.4 L1208.9,1293.8 L1209.9,1294.9 L1210.9,1295.7 L1211.9,1296.2 L1212.8,1296.4 L1213.8,1296.6 L1214.7,1296.8 L1215.7,1297 L1216.6,1297.1 L1217.5,1297.3 L1218.5,1297.4 L1219.4,1297.5 L1220.4,1297.6 L1221.3,1297.7 L1222.2,1297.8 L1223.2,1297.8 L1224.1,1297.9 L1225.1,1297.9 L1226,1297.9 L1227,1297.9 L1228,1297.9 L1228.9,1297.8 L1229.9,1297.8 L1230.9,1297.7 L1231.9,1297.7 L1232.8,1297.6 L1233.8,1297.5 L1234.8,1297.4 L1235.8,1297.3 L1236.8,1297.2 L1237.7,1297.1 L1238.7,1296.9 L1239.7,1296.8 L1240.7,1296.6 L1241.6,1296.5 L1242.6,1296.4 L1243.6,1296.2 L1244.5,1296 L1245.5,1295.7 L1246.4,1295.4 L1247.4,1294.9 L1248.3,1294.5 L1249.3,1294 L1250.2,1293.5 L1251.2,1293 L1252.1,1292.5 L1253.1,1292 L1254,1291.6 L1255,1291.3 L1255.9,1291 L1256.9,1290.9 L1257.8,1290.8 L1258.8,1290.8 L1259.8,1290.9 L1260.8,1291 L1261.8,1291.1 L1262.8,1291.2 L1263.8,1291.4 L1264.8,1291.5 L1265.8,1291.7 L1266.7,1291.9 L1267.7,1292 L1268.7,1292.2 L1269.7,1292.3 L1270.7,1292.4 L1271.7,1292.5 L1272.7,1292.6 L1273.7,1292.6 L1274.7,1292.5 L1275.7,1292.1 L1276.6,1291.4 L1277.6,1290.7 L1278.6,1289.7 L1279.6,1288.7 L1280.5,1287.7 L1281.5,1286.6 L1282.5,1285.6 L1283.5,1284.4 L1284.5,1282.8 L1285.4,1281.1 L1286.4,1279.2 L1287.4,1277.4 L1288.4,1275.8 L1289.3,1274.4 L1290.3,1273.5 L1291.3,1273.2 L1292.3,1273.4 L1293.3,1274.1 L1294.2,1275 L1295.2,1276.2 L1296.2,1277.3 L1297.2,1278.5 L1298.1,1279.4 L1299.1,1280.1 L1300.1,1280.3 L1301.1,1280.3 L1302.1,1280.2 L1303.1,1280.1 L1304.1,1279.9 L1305,1279.7 L1306,1279.5 L1307,1279.2 L1308,1278.9 L1309,1278.5 L1310,1277.5 L1311,1275.3 L1311.9,1272.1 L1312.9,1268 L1313.9,1263.3 L1314.9,1258.1 L1315.8,1252.6 L1316.8,1247 L1317.8,1241.4 L1318.7,1236 L1319.5,1229.8 L1320.4,1222.8 L1321.3,1215.5 L1322.1,1207.8 L1323,1200 L1323.9,1192 L1324.8,1183.7 L1325.7,1174.5 L1326.6,1163.7 L1327.4,1149.4 L1328.3,1131.4 L1329.2,1113.7 L1330,1100 L1331,1087.6 L1332,1076.2 L1333,1067.8 L1334,1064.5 L1335,1064.7 L1336,1065.2 L1337,1066.1 L1338,1067.2 L1339,1068.5 L1340,1073.1 L1341,1082.1 L1341.9,1092.3 L1342.9,1100.7 L1343.9,1104.2 L1344.9,1104 L1345.9,1103.5 L1346.9,1102.6 L1347.9,1101.5 L1348.9,1100.2 L1349.9,1096 L1350.9,1087.4 L1351.9,1076.2 L1352.8,1064.3 L1353.8,1053.5 L1354.8,1045.6 L1355.8,1042.6 L1356.8,1042.9 L1357.8,1043.7 L1358.8,1045 L1359.8,1046.6 L1360.7,1050.5 L1361.6,1058.5 L1362.5,1069.5 L1363.3,1082.2 L1364.2,1095.6 L1365.1,1108.6 L1366,1120 L1367,1132.3 L1367.9,1146.3 L1368.9,1160.6 L1369.8,1174 L1370.8,1185.1 L1371.7,1192.8 L1372.7,1195.6 L1373.7,1195.6 L1374.7,1195.6 L1375.7,1195.6 L1376.6,1190.1 L1377.4,1176 L1378.3,1157.1 L1379.1,1137.2 L1380,1120 L1380.9,1102.2 L1381.8,1082.2 L1382.8,1063.6 L1383.7,1049.9 L1384.6,1044.6 L1385.6,1044.9 L1386.6,1045.7 L1387.6,1047 L1388.6,1048.6 L1389.6,1055.5 L1390.6,1070.2 L1391.5,1088.6 L1392.5,1106.7 L1393.5,1120.5 L1394.5,1126 L1395.5,1125.8 L1396.5,1125.1 L1397.5,1124 L1398.5,1113.7 L1399.5,1095.8 L1400.5,1086.3 L1401.5,1086.6 L1402.5,1087.4 L1403.5,1088.6 L1404.5,1090.3 L1405.5,1092.3 L1406.5,1099.1 L1407.5,1111.2 L1408.4,1122.8 L1409.4,1128 L1410.4,1128 L1411.4,1128 L1412.4,1128 L1413.4,1128 L1414.4,1128 L1415.4,1128 L1416.4,1128.1 L1417.4,1128.3 L1418.4,1128.8 L1419.4,1129.3 L1420.4,1130 L1421.4,1131.7 L1422.3,1135 L1423.3,1139.3 L1424.3,1144 L1425.3,1150.4 L1426.3,1159.3 L1427.3,1169.1 L1428.3,1178.4 L1429.3,1185.7 L1430.3,1189.6 L1431.3,1191 L1432.3,1192 L1433.3,1192.7 L1434.3,1193.5 L1435.3,1194.6 L1436.3,1196.2 L1437.3,1198.4 L1438.3,1200.8 L1439.2,1203.4 L1440.2,1205.7 L1441.2,1207.7 L1442.2,1209.1 L1443.2,1209.6 L1444.1,1209.3 L1444.9,1208.7 L1445.8,1207.8 L1446.7,1207 L1447.5,1206.4 L1448.4,1206.1 L1449.3,1206.2 L1450.2,1206.6 L1451.1,1207.1 L1452,1207.8 L1452.9,1208.7 L1453.8,1209.6 L1454.8,1211.5 L1455.8,1214.9 L1456.7,1219.5 L1457.7,1224.7 L1458.7,1230.4 L1459.7,1235.9 L1460.6,1241.1 L1461.6,1245.4 L1462.6,1248.5 L1463.6,1250.9 L1464.5,1253.2 L1465.5,1255.5 L1466.5,1257.6 L1467.4,1259.6 L1468.4,1261.4 L1469.3,1263 L1470.3,1264.3 L1471.3,1265.3 L1472.2,1265.9 L1473.2,1266.1 L1474.2,1265.6 L1475.2,1264.1 L1476.1,1262 L1477.1,1259.5 L1478.1,1256.8 L1479.1,1254.3 L1480,1252.2 L1481,1250.7 L1482,1250.2 L1483,1250.9 L1484,1252.8 L1484.9,1255.6 L1485.9,1259 L1486.9,1262.6 L1487.9,1266.1 L1488.8,1269.3 L1489.8,1271.7 L1490.8,1273.2 L1491.8,1274 L1492.7,1274.7 L1493.7,1275.3 L1494.7,1275.9 L1495.6,1276.4 L1496.6,1276.9 L1497.5,1277.3 L1498.5,1277.6 L1499.5,1278 L1500.4,1278.2 L1501.4,1278.5 L1502.4,1278.7 L1503.3,1278.9 L1504.3,1279.1 L1505.3,1279.2 L1506.2,1279.4 L1507.2,1279.5 L1508.1,1279.6 L1509.1,1279.8 L1510.1,1279.9 L1511,1280.1 L1512,1280.3 L1513,1280.5 L1514,1280.8 L1515,1281.2 L1516,1281.5 L1516.9,1281.9 L1517.9,1282.3 L1518.9,1282.8 L1519.9,1283.2 L1520.9,1283.7 L1521.9,1284.2 L1522.9,1284.7 L1523.9,1285.1 L1524.8,1285.6 L1525.8,1286.1 L1526.8,1286.5 L1527.8,1286.9 L1528.8,1287.4 L1529.8,1287.7 L1530.8,1288.1 L1531.8,1288.4 L1532.7,1288.6 L1533.7,1288.8 L1534.7,1289 L1535.7,1289.1 L1536.7,1289.1 L1537.6,1288.8 L1538.5,1288 L1539.4,1286.8 L1540.3,1285.3 L1541.2,1283.6 L1542.1,1281.8 L1543,1280 L1543.9,1277.7 L1544.7,1274.5 L1545.6,1271.4 L1546.4,1268.9 L1547.3,1267.9 L1548.2,1268.2 L1549.2,1269 L1550.1,1270.3 L1551,1272 L1551.9,1276 L1552.7,1282.6 L1553.6,1289.3" fill="none" stroke="#000000" stroke-width="6" stroke-linejoin="bevel"/>
<text x="1037" y="1155.6" font-size="30" text-anchor="start" font-weight="normal" fill="#000" font-family="'Liberation Sans', Arial, Helvetica, sans-serif" >1 eq</text>
<text x="1093.6" y="1212" font-size="30" text-anchor="start" font-weight="normal" fill="#000" font-family="'Liberation Sans', Arial, Helvetica, sans-serif" >5 eq</text>
<text x="1158.9" y="1279" font-size="30" text-anchor="start" font-weight="normal" fill="#000" font-family="'Liberation Sans', Arial, Helvetica, sans-serif" >50 eq</text>
<text x="1158.5" y="1335" font-size="29.5" text-anchor="middle" font-weight="normal" fill="#000" font-family="'Liberation Sans', Arial, Helvetica, sans-serif" >15</text>
<text x="1556" y="1335" font-size="29.5" text-anchor="middle" font-weight="normal" fill="#000" font-family="'Liberation Sans', Arial, Helvetica, sans-serif" >20</text>
<text x="1233.8" y="1352.6" font-size="31" text-anchor="start" font-weight="normal" fill="#000" font-family="'Liberation Sans', Arial, Helvetica, sans-serif" >Elution Time (Min)</text>
<text x="1605" y="820.9" font-size="36.5" text-anchor="start" font-weight="bold" fill="#138a13" font-family="'Liberation Sans', Arial, Helvetica, sans-serif" >ZnF2</text>
<text x="1704" y="820.9" font-size="37" text-anchor="start" font-weight="normal" fill="#000" font-family="'Liberation Sans', Arial, Helvetica, sans-serif" >+ Cu</text>
<text x="1783" y="808.2" font-size="21" text-anchor="start" font-weight="normal" fill="#000" font-family="'Liberation Sans', Arial, Helvetica, sans-serif" >2+</text>
<text x="1813.5" y="820.9" font-size="37" text-anchor="start" font-weight="normal" fill="#000" font-family="'Liberation Sans', Arial, Helvetica, sans-serif" >(15 min)</text>
<path d="M1513,1167.4 L1514,1167.4 L1515,1167.4 L1516,1167.4 L1517,1167.4 L1518,1167.4 L1519,1167.4 L1520,1167.4 L1521,1167.4 L1522,1167.4 L1523,1167.4 L1524,1167.4 L1525,1167.4 L1526,1167.4 L1527,1167.4 L1528,1167.4 L1529,1167.4 L1530,1167.4 L1531,1167.4 L1532,1167.5 L1533,1167.5 L1534,1167.5 L1535,1167.5 L1536,1167.5 L1537,1167.5 L1538,1167.5 L1539,1167.5 L1540,1167.5 L1541,1167.5 L1542,1167.5 L1543,1167.5 L1544,1167.5 L1545,1167.5 L1546,1167.5 L1547,1167.5 L1548,1167.5 L1549,1167.5 L1550,1167.5 L1551,1167.5 L1552,1167.5 L1553,1167.5 L1554,1167.5 L1555,1167.5 L1556,1167.5 L1557,1167.5 L1558,1167.5 L1559,1167.5 L1560,1167.5 L1561,1167.5 L1562,1167.5 L1563,1167.5 L1564,1167.5 L1565,1167.5 L1566,1167.6 L1567,1167.6 L1568,1167.6 L1569,1167.6 L1570,1167.6 L1571,1167.6 L1572,1167.6 L1573,1167.6 L1574,1167.6 L1575,1167.6 L1576,1167.6 L1577,1167.6 L1578,1167.6 L1579,1167.6 L1580,1167.6 L1581,1167.6 L1582,1167.6 L1583,1167.6 L1584,1167.6 L1585,1167.6 L1586,1167.6 L1587,1167.6 L1588,1167.6 L1589,1167.6 L1590,1167.6 L1591,1167.6 L1592,1167.6 L1593,1167.6 L1594,1167.6 L1595,1167.6 L1596,1167.6 L1597,1167.6 L1598,1167.6 L1599,1167.6 L1600,1167.6 L1601,1167.6 L1602,1167.6 L1603,1167.6 L1604,1167.6 L1605,1167.6 L1606,1167.6 L1607,1167.6 L1608,1167.6 L1609,1167.6 L1610,1167.6 L1611,1167.6 L1612,1167.6 L1613,1167.6 L1614,1167.6 L1615,1167.6 L1616,1167.6 L1617,1167.6 L1618,1167.6 L1619,1167.5 L1620,1167.5 L1621,1167.5 L1622,1167.5 L1623,1167.5 L1624,1167.5 L1625,1167.5 L1626,1167.5 L1627,1167.5 L1628,1167.5 L1629,1167.5 L1630,1167.5 L1631,1167.5 L1632,1167.4 L1633,1167.4 L1634,1167.4 L1635,1167.4 L1636,1167.4 L1637,1167.4 L1638,1167.4 L1639,1167.4 L1640,1167.3 L1641,1167.3 L1642,1167.3 L1643,1167.3 L1644,1167.3 L1645,1167.3 L1646,1167.3 L1647,1167.2 L1648,1167.2 L1649,1167.2 L1650,1167.2 L1651,1167.2 L1652,1167.2 L1653,1167.1 L1654,1167.1 L1655,1167.1 L1656,1167.1 L1657,1167.1 L1658,1167 L1659,1167 L1660,1167 L1661,1167 L1662,1166.9 L1663,1166.9 L1663.9,1166.8 L1664.9,1166.7 L1665.9,1166.6 L1666.9,1166.5 L1667.9,1166.4 L1668.9,1166.2 L1669.9,1166.1 L1670.8,1165.9 L1671.8,1165.8 L1672.8,1165.6 L1673.8,1165.4 L1674.8,1165.2 L1675.8,1165 L1676.8,1164.8 L1677.7,1164.6 L1678.7,1164.4 L1679.7,1164.1 L1680.7,1163.9 L1681.6,1163.7 L1682.6,1163.5 L1683.5,1163.2 L1684.5,1163 L1685.4,1162.7 L1686.4,1162.4 L1687.3,1162 L1688.3,1161.6 L1689.2,1161.2 L1690.2,1160.7 L1691.1,1160.1 L1692.1,1159.4 L1693,1158.6 L1694,1157.8 L1694.9,1156.8 L1695.8,1154.5 L1696.6,1149.8 L1697.5,1143.3 L1698.3,1135.8 L1699.2,1127.8 L1700,1120 L1700.9,1109.8 L1701.8,1096.7 L1702.8,1082.9 L1703.7,1070.4 L1704.6,1061.4 L1705.5,1057.9 L1706.4,1058 L1707.2,1058.4 L1708.1,1059 L1709,1059.7 L1710,1065.1 L1711,1077.1 L1712,1092.5 L1713,1107.9 L1714,1120 L1715,1129.7 L1715.9,1139.3 L1716.8,1146.7 L1717.8,1149.7 L1718.7,1149 L1719.6,1146.9 L1720.5,1143.6 L1721.4,1139.2 L1722.3,1121.3 L1723.2,1084.9 L1724.1,1040.8 L1725,1000 L1726,955.3 L1727,910.1 L1728,880 L1728.7,867.8 L1729.5,858.5 L1730.2,854.8 L1731.1,855.2 L1732,856.2 L1732.8,857.8 L1733.7,860.1 L1734.5,871.2 L1735.3,894.7 L1736.2,923.5 L1737,950 L1737.9,979.4 L1738.9,1012.9 L1739.8,1046.7 L1740.7,1076.8 L1741.7,1099.5 L1742.6,1110.9 L1743.6,1115.3 L1744.6,1119.2 L1745.5,1122.6 L1746.5,1125.5 L1747.5,1127.8 L1748.5,1129.7 L1749.4,1131 L1750.4,1131.8 L1751.4,1132.1 L1752.3,1132 L1753.2,1131.8 L1754.1,1131.5 L1755,1131.2 L1755.8,1130.9 L1756.7,1130.6 L1757.6,1130.4 L1758.5,1130.3 L1759.5,1130.8 L1760.5,1132.2 L1761.5,1134.2 L1762.5,1136.5 L1763.5,1138.9 L1764.5,1141 L1765.5,1142.7 L1766.4,1143.9 L1767.4,1145.1 L1768.3,1146.2 L1769.3,1147.3 L1770.2,1148.3 L1771.1,1149.3 L1772.1,1150.3 L1773,1151.2 L1774,1152.1 L1774.9,1152.9 L1775.8,1153.8 L1776.8,1154.6 L1777.7,1155.3 L1778.7,1156.1 L1779.6,1156.8 L1780.6,1157.6 L1781.6,1158.3 L1782.5,1159.1 L1783.5,1159.9 L1784.5,1160.7 L1785.5,1161.5 L1786.5,1162.3 L1787.5,1163 L1788.4,1163.8 L1789.4,1164.4 L1790.4,1165.1 L1791.4,1165.6 L1792.4,1166.1 L1793.4,1166.6 L1794.3,1166.9 L1795.3,1167.2 L1796.3,1167.3 L1797.3,1167.4 L1798.3,1167.4 L1799.3,1167.4 L1800.3,1167.4 L1801.3,1167.4 L1802.3,1167.4 L1803.3,1167.4 L1804.3,1167.5 L1805.3,1167.5 L1806.2,1167.5 L1807.2,1167.5 L1808.2,1167.5 L1809.2,1167.5 L1810.2,1167.5 L1811.2,1167.5 L1812.2,1167.5 L1813.2,1167.5 L1814.2,1167.5 L1815.2,1167.5 L1816.2,1167.5 L1817.2,1167.5 L1818.2,1167.5 L1819.2,1167.5 L1820.2,1167.5 L1821.2,1167.6 L1822.2,1167.6 L1823.2,1167.6 L1824.1,1167.6 L1825.1,1167.6 L1826.1,1167.6 L1827.1,1167.6 L1828.1,1167.6 L1829.1,1167.6 L1830.1,1167.6 L1831.1,1167.6 L1832.1,1167.6 L1833.1,1167.6 L1834.1,1167.6 L1835.1,1167.6 L1836.1,1167.6 L1837.1,1167.6 L1838.1,1167.6 L1839.1,1167.6 L1840.1,1167.6 L1841.1,1167.6 L1842,1167.6 L1843,1167.6 L1844,1167.6 L1845,1167.6 L1846,1167.6 L1847,1167.6 L1848,1167.6 L1849,1167.6 L1850,1167.6 L1851,1167.6 L1852,1167.6 L1853,1167.6 L1854,1167.6 L1855,1167.6 L1856,1167.6 L1857,1167.6 L1858,1167.6 L1859,1167.6 L1860,1167.6 L1861,1167.6 L1862,1167.6 L1863,1167.6 L1864,1167.6 L1865,1167.6 L1866,1167.6 L1867,1167.6 L1868,1167.6 L1869,1167.6 L1870,1167.6 L1871,1167.6 L1872,1167.6 L1873,1167.5 L1874,1167.5 L1875,1167.5 L1876,1167.5 L1877,1167.5 L1878,1167.5 L1879,1167.5 L1879.9,1167.5 L1880.9,1167.5 L1881.9,1167.5 L1882.9,1167.5 L1883.9,1167.5 L1884.9,1167.5 L1885.9,1167.5 L1886.9,1167.5 L1887.9,1167.5 L1888.9,1167.5 L1889.9,1167.5 L1890.9,1167.5 L1891.9,1167.5 L1892.9,1167.5 L1893.9,1167.5 L1894.9,1167.5 L1895.9,1167.4 L1896.9,1167.4 L1897.9,1167.4 L1898.9,1167.4 L1899.9,1167.4 L1900.9,1167.4 L1901.9,1167.4 L1902.9,1167.4 L1903.9,1167.4 L1904.9,1167.4 L1905.9,1167.4 L1906.9,1167.4 L1907.9,1167.4" fill="none" stroke="#d1d2d4" stroke-width="6" stroke-linejoin="bevel"/>
<path d="M1573,1226.8 L1574,1226.8 L1575,1226.8 L1576,1226.8 L1577,1226.9 L1578,1226.9 L1579,1226.9 L1580,1226.9 L1581,1226.9 L1582,1227 L1583,1227 L1584,1227 L1585,1227 L1586,1227 L1587,1227.1 L1588,1227.1 L1589,1227.1 L1590,1227.1 L1591,1227.1 L1592,1227.2 L1593,1227.2 L1594,1227.2 L1595,1227.2 L1596,1227.2 L1597,1227.2 L1598,1227.3 L1599,1227.3 L1600,1227.3 L1601,1227.3 L1602,1227.3 L1603,1227.3 L1604,1227.4 L1605,1227.4 L1606,1227.4 L1607,1227.4 L1608,1227.4 L1609,1227.4 L1610,1227.4 L1611,1227.5 L1612,1227.5 L1613,1227.5 L1614,1227.5 L1615,1227.5 L1616,1227.5 L1617,1227.5 L1618,1227.5 L1619,1227.5 L1620,1227.5 L1621,1227.5 L1622,1227.5 L1623,1227.5 L1624,1227.5 L1625,1227.5 L1626,1227.4 L1627,1227.4 L1628,1227.4 L1629,1227.4 L1630,1227.4 L1631,1227.3 L1632,1227.3 L1633,1227.3 L1634,1227.2 L1635,1227.2 L1636,1227.2 L1637,1227.1 L1638,1227.1 L1639,1227 L1640,1227 L1641,1227 L1642,1226.9 L1643,1226.9 L1644,1226.8 L1645,1226.8 L1646,1226.7 L1647,1226.7 L1648,1226.6 L1649,1226.6 L1650,1226.5 L1651,1226.5 L1652,1226.4 L1653,1226.4 L1654,1226.3 L1655,1226.3 L1656,1226.2 L1657,1226.2 L1658,1226.1 L1659,1226.1 L1660,1226 L1661,1225.9 L1662,1225.9 L1663,1225.8 L1664,1225.7 L1665,1225.7 L1666,1225.6 L1667,1225.5 L1667.9,1225.4 L1668.9,1225.3 L1669.9,1225.2 L1670.9,1225.1 L1671.9,1225 L1672.9,1224.9 L1673.9,1224.8 L1674.9,1224.7 L1675.9,1224.6 L1676.9,1224.6 L1677.9,1224.5 L1678.9,1224.4 L1679.9,1224.3 L1680.8,1224.2 L1681.8,1224.2 L1682.8,1224.1 L1683.8,1224.1 L1684.8,1224 L1685.8,1224 L1686.8,1224 L1687.8,1224 L1688.8,1224 L1689.7,1224.1 L1690.7,1224.1 L1691.7,1224.2 L1692.6,1224.3 L1693.6,1224.4 L1694.6,1224.6 L1695.5,1224.7 L1696.5,1224.8 L1697.5,1225 L1698.4,1225.2 L1699.4,1225.3 L1700.3,1225.5 L1701.3,1225.7 L1702.3,1225.8 L1703.2,1225.9 L1704.2,1226.1 L1705.2,1226.2 L1706.1,1226.3 L1707.1,1226.4 L1708.1,1226.4 L1709,1226.5 L1710,1226.5 L1711,1226.5 L1712,1226.5 L1713,1226.5 L1714,1226.5 L1714.9,1226.5 L1715.9,1226.5 L1716.9,1226.4 L1717.9,1226.4 L1718.9,1226.4 L1719.9,1226.4 L1720.9,1226.4 L1721.8,1226.3 L1722.8,1226.3 L1723.8,1226.3 L1724.8,1226.2 L1725.8,1226.2 L1726.8,1226.1 L1727.8,1226.1 L1728.8,1226 L1729.8,1226 L1730.7,1225.9 L1731.7,1225.8 L1732.7,1225.8 L1733.7,1225.7 L1734.6,1225.4 L1735.5,1224.7 L1736.4,1223.7 L1737.2,1222.3 L1738.1,1220.5 L1739,1218.4 L1739.9,1216 L1740.8,1213.3 L1741.6,1208.4 L1742.5,1200.1 L1743.3,1189.9 L1744.2,1179.4 L1745,1170 L1746,1158.7 L1746.9,1147.7 L1747.9,1142.7 L1748.8,1142.9 L1749.7,1143.6 L1750.6,1144.6 L1751.4,1146 L1752.3,1147.7 L1753.2,1149.7 L1754.2,1156 L1755.1,1167.6 L1756,1180.2 L1757,1190 L1757.8,1196.1 L1758.6,1201.9 L1759.4,1206.3 L1760.2,1208 L1761.1,1206.4 L1762,1202.5 L1762.8,1197.4 L1763.7,1192.3 L1764.6,1188.4 L1765.5,1186.8 L1766.4,1187.5 L1767.3,1189.1 L1768.2,1191.2 L1769,1193.4 L1769.9,1195 L1770.8,1195.7 L1771.8,1195 L1772.8,1193.2 L1773.7,1190.6 L1774.7,1187.6 L1775.7,1184.3 L1776.7,1181.3 L1777.6,1178.7 L1778.6,1176.9 L1779.6,1176.2 L1780.5,1176.7 L1781.4,1177.9 L1782.3,1179.6 L1783.2,1181.5 L1784,1183.4 L1784.9,1185.1 L1785.8,1186.3 L1786.7,1186.8 L1787.6,1186.5 L1788.5,1185.4 L1789.4,1183.7 L1790.2,1181.2 L1791.1,1178 L1792,1174.1 L1792.9,1169.4 L1793.8,1163.9 L1794.6,1148.3 L1795.4,1118.2 L1796.2,1082.4 L1797,1050 L1798,1011.5 L1798.9,969.5 L1799.8,935.7 L1800.8,921.9 L1801.7,922.3 L1802.6,923.3 L1803.5,924.9 L1804.4,927.2 L1805.3,944 L1806.2,980.4 L1807.1,1023.5 L1808,1060 L1808.9,1092.9 L1809.8,1123.7 L1810.7,1137.4 L1811.5,1128.8 L1812.3,1108.1 L1813.2,1082.7 L1814,1060 L1814.9,1037.1 L1815.8,1011.3 L1816.7,984.8 L1817.6,960.1 L1818.5,939.5 L1819.4,925.4 L1820.3,920.2 L1821.2,920.7 L1822,922.1 L1822.9,924.3 L1823.8,927.2 L1824.6,941.4 L1825.5,972.1 L1826.3,1011 L1827.2,1049.8 L1828,1080 L1828.9,1106.4 L1829.8,1132.9 L1830.8,1156.3 L1831.7,1173.5 L1832.6,1181.5 L1833.5,1183.6 L1834.4,1185.4 L1835.3,1187 L1836.2,1188.2 L1837,1189.2 L1837.9,1189.9 L1838.8,1190.3 L1839.7,1190.4 L1840.6,1189.5 L1841.5,1187 L1842.3,1183.3 L1843.2,1179 L1844.1,1174.4 L1845,1170 L1845.9,1164.7 L1846.8,1157.8 L1847.7,1150.6 L1848.5,1144 L1849.4,1139.2 L1850.3,1137.4 L1851.2,1137.8 L1852,1139 L1852.9,1140.7 L1853.8,1142.7 L1854.7,1147.1 L1855.6,1154.9 L1856.4,1164.5 L1857.3,1174.4 L1858.2,1182.9 L1859.1,1188.6 L1860.1,1192.5 L1861.1,1195.9 L1862.1,1198.9 L1863.1,1201.6 L1864,1203.9 L1865,1206 L1866,1208 L1867,1209.8 L1868,1211.6 L1869,1213.3 L1869.9,1215 L1870.9,1216.7 L1871.9,1218.3 L1872.8,1219.8 L1873.8,1221.2 L1874.7,1222.5 L1875.7,1223.6 L1876.7,1224.5 L1877.6,1225.2 L1878.6,1225.7 L1879.6,1226.1 L1880.6,1226.4 L1881.5,1226.7 L1882.5,1227 L1883.5,1227.3 L1884.5,1227.6 L1885.4,1227.8 L1886.4,1228 L1887.4,1228.3 L1888.4,1228.5 L1889.4,1228.6 L1890.3,1228.8 L1891.3,1228.9 L1892.3,1229 L1893.3,1229.1 L1894.2,1229.2 L1895.2,1229.2 L1896.2,1229.2 L1897.2,1229.2 L1898.2,1229.2 L1899.2,1229.2 L1900.2,1229.2 L1901.2,1229.2 L1902.2,1229.2 L1903.2,1229.2 L1904.2,1229.2 L1905.1,1229.2 L1906.1,1229.2 L1907.1,1229.2 L1908.1,1229.1 L1909.1,1229.1 L1910.1,1229.1 L1911.1,1229.1 L1912.1,1229.1 L1913.1,1229.1 L1914.1,1229.1 L1915.1,1229.1 L1916.1,1229.1 L1917.1,1229.1 L1918.1,1229.1 L1919.1,1229 L1920.1,1229 L1921.1,1229 L1922,1229 L1923,1229 L1924,1229 L1925,1229 L1926,1229 L1927,1229 L1928,1229 L1929,1229 L1930,1229 L1931,1229 L1932,1229 L1933,1229 L1934,1229 L1935,1229 L1936,1229 L1937,1229 L1938,1229 L1939,1229 L1940,1229 L1941,1229 L1942,1229 L1943,1229 L1944,1229 L1945,1229.1 L1946,1229.1 L1947,1229.1 L1948,1229.1 L1948.9,1229.1 L1949.9,1229.1 L1950.9,1229.1 L1951.9,1229.1 L1952.9,1229.1 L1953.9,1229.1 L1954.9,1229.1 L1955.9,1229.1 L1956.9,1229.1 L1957.9,1229.1 L1958.9,1229.1 L1959.9,1229.2 L1960.9,1229.2 L1961.9,1229.2 L1962.9,1229.2 L1963.9,1229.2 L1964.9,1229.2 L1965.9,1229.2 L1966.9,1229.2" fill="none" stroke="#808285" stroke-width="6" stroke-linejoin="bevel"/>
<path d="M1638.4,1296.3 L1639.4,1296.3 L1640.4,1296.3 L1641.4,1296.3 L1642.4,1296.2 L1643.4,1296.2 L1644.4,1296.2 L1645.4,1296.2 L1646.3,1296.2 L1647.3,1296.2 L1648.3,1296.2 L1649.3,1296.2 L1650.3,1296.1 L1651.3,1296.1 L1652.3,1296.1 L1653.3,1296.1 L1654.3,1296.1 L1655.3,1296.1 L1656.3,1296.1 L1657.3,1296.1 L1658.3,1296 L1659.3,1296 L1660.3,1296 L1661.3,1296 L1662.2,1296 L1663.2,1296 L1664.2,1296 L1665.2,1295.9 L1666.2,1295.9 L1667.2,1295.9 L1668.2,1295.9 L1669.2,1295.9 L1670.2,1295.9 L1671.2,1295.9 L1672.2,1295.9 L1673.2,1295.8 L1674.2,1295.8 L1675.2,1295.8 L1676.2,1295.8 L1677.1,1295.8 L1678.1,1295.8 L1679.1,1295.8 L1680.1,1295.8 L1681.1,1295.7 L1682.1,1295.7 L1683.1,1295.7 L1684.1,1295.7 L1685.1,1295.7 L1686.1,1295.7 L1687.1,1295.7 L1688.1,1295.7 L1689.1,1295.6 L1690.1,1295.6 L1691.1,1295.6 L1692.1,1295.6 L1693,1295.6 L1694,1295.6 L1695,1295.6 L1696,1295.6 L1697,1295.5 L1698,1295.5 L1699,1295.5 L1700,1295.5 L1701,1295.5 L1702,1295.5 L1703,1295.5 L1704,1295.5 L1705,1295.4 L1706,1295.4 L1707,1295.4 L1708,1295.4 L1709,1295.4 L1710,1295.4 L1711,1295.4 L1712,1295.4 L1713,1295.4 L1714,1295.4 L1715,1295.4 L1716,1295.4 L1717,1295.4 L1718,1295.3 L1719,1295.3 L1720,1295.3 L1721,1295.3 L1722,1295.3 L1723,1295.3 L1724,1295.3 L1725,1295.3 L1726,1295.3 L1727,1295.3 L1728,1295.2 L1729,1295.2 L1730,1295.2 L1731,1295.2 L1732,1295.2 L1733,1295.2 L1734,1295.1 L1735,1295.1 L1736,1295.1 L1737,1295.1 L1738,1295.1 L1739,1295 L1740,1295 L1741,1294.9 L1741.9,1294.8 L1742.8,1294.6 L1743.8,1294.3 L1744.8,1294.1 L1745.7,1293.8 L1746.7,1293.5 L1747.6,1293.2 L1748.6,1293 L1749.5,1292.8 L1750.5,1292.6 L1751.4,1292.6 L1752.4,1292.7 L1753.3,1292.9 L1754.3,1293.2 L1755.2,1293.6 L1756.2,1294 L1757.1,1294.4 L1758.1,1294.7 L1759,1294.9 L1760,1295 L1761,1295 L1762,1295 L1762.9,1295 L1763.9,1295 L1764.9,1295 L1765.9,1295 L1766.9,1295 L1767.9,1294.9 L1768.8,1294.9 L1769.8,1294.9 L1770.8,1294.9 L1771.8,1294.9 L1772.8,1294.8 L1773.7,1294.8 L1774.7,1294.8 L1775.7,1294.7 L1776.7,1294.7 L1777.7,1294.6 L1778.7,1294.6 L1779.6,1294.5 L1780.6,1294.5 L1781.6,1294.4 L1782.6,1294.4 L1783.6,1294.3 L1784.5,1294.2 L1785.5,1294.1 L1786.5,1294.1 L1787.5,1294 L1788.5,1293.9 L1789.4,1293.8 L1790.4,1293.7 L1791.4,1293.6 L1792.4,1293.5 L1793.4,1293.3 L1794.4,1293.2 L1795.3,1293.1 L1796.3,1292.9 L1797.3,1292.8 L1798.2,1292.2 L1799.1,1290.9 L1800,1288.8 L1800.8,1286.1 L1801.7,1282.7 L1802.6,1278.9 L1803.5,1274.6 L1804.4,1269.9 L1805.3,1261.6 L1806.2,1248.8 L1807.1,1235.4 L1808,1225 L1808.8,1217.4 L1809.7,1210.2 L1810.6,1204.8 L1811.4,1202.7 L1812.3,1203.2 L1813.2,1204.7 L1814.1,1206.9 L1815,1209.8 L1816,1219 L1817,1234.8 L1818,1250 L1818.8,1261.2 L1819.5,1272 L1820.3,1276.9 L1821.3,1275.7 L1822.3,1272.7 L1823.3,1268.6 L1824.3,1264 L1825.3,1259.9 L1826.3,1256.9 L1827.3,1255.7 L1828.2,1256.2 L1829.1,1257.4 L1830,1259.1 L1830.8,1261 L1831.7,1262.9 L1832.6,1264.6 L1833.5,1265.8 L1834.4,1266.3 L1835.3,1264.7 L1836.2,1260.5 L1837.1,1254.6 L1838,1247.8 L1838.8,1240.9 L1839.7,1235 L1840.6,1230.8 L1841.5,1229.2 L1842.4,1229.5 L1843.2,1230.3 L1844.1,1231.5 L1845,1232.8 L1845.9,1235 L1846.8,1238.6 L1847.7,1242.6 L1848.5,1246.4 L1849.4,1249.3 L1850.3,1250.4 L1851.2,1250.3 L1852.1,1250.1 L1853,1249.7 L1853.8,1249.2 L1854.7,1248.5 L1855.6,1247.5 L1856.5,1246.4 L1857.4,1245.1 L1858.3,1236.6 L1859.2,1217.1 L1860,1191.3 L1860.9,1163.9 L1861.7,1133.5 L1862.5,1095.3 L1863.2,1057.9 L1864,1030 L1864.7,1010.4 L1865.5,994.1 L1866.2,987.3 L1867.1,987.6 L1868,988.7 L1868.8,990.3 L1869.7,992.6 L1870.5,1007.2 L1871.3,1039.8 L1872.2,1080.6 L1873,1120 L1874,1178.3 L1875,1215.1 L1876,1204.1 L1877,1177.9 L1878,1146.5 L1879,1120 L1880,1098.3 L1880.9,1075.2 L1881.9,1054.2 L1882.8,1039.1 L1883.8,1033.2 L1884.7,1033.6 L1885.6,1034.6 L1886.5,1036.2 L1887.4,1038.5 L1888.3,1053.3 L1889.2,1084.8 L1890.1,1121 L1891,1150 L1891.9,1171.2 L1892.7,1192.5 L1893.6,1212.4 L1894.5,1229.4 L1895.3,1242 L1896.2,1248.7 L1897.1,1251.9 L1898,1254.6 L1898.9,1257.1 L1899.8,1259.1 L1900.6,1260.7 L1901.5,1261.8 L1902.4,1262.6 L1903.3,1262.8 L1904.3,1262 L1905.2,1259.9 L1906.2,1256.7 L1907.2,1252.7 L1908.1,1248.3 L1909.1,1243.7 L1910,1239.3 L1911,1235.3 L1912,1232.1 L1912.9,1230 L1913.9,1229.2 L1914.8,1229.5 L1915.7,1230.5 L1916.6,1232 L1917.4,1233.8 L1918.3,1235.9 L1919.2,1238.1 L1920.2,1242.3 L1921.2,1249.1 L1922.2,1257.3 L1923.2,1265.6 L1924.2,1273.1 L1925.2,1278.4 L1926.2,1280.4 L1927.1,1280.3 L1928,1280.1 L1928.9,1279.9 L1929.8,1279.6 L1930.6,1279.2 L1931.5,1279 L1932.4,1278.8 L1933.3,1278.7 L1934.3,1279.2 L1935.3,1280.6 L1936.2,1282.6 L1937.2,1285 L1938.2,1287.6 L1939.2,1290.1 L1940.1,1292.2 L1941.1,1293.8 L1942.1,1294.6 L1943.1,1294.9 L1944.1,1295.2 L1945.1,1295.4 L1946.1,1295.7 L1947.1,1295.9 L1948.1,1296.1 L1949,1296.4 L1950,1296.6 L1951,1296.7 L1952,1296.9 L1953,1297.1 L1954,1297.2 L1955,1297.4 L1956,1297.5 L1957,1297.6 L1958,1297.7 L1959,1297.8 L1960,1297.9 L1960.9,1297.9 L1961.9,1298 L1962.9,1298 L1963.9,1298.1 L1964.9,1298.1 L1965.9,1298.1 L1966.9,1298.1 L1967.9,1298.1 L1968.8,1298.1 L1969.8,1298.1 L1970.8,1298.1 L1971.8,1298.1 L1972.7,1298.1 L1973.7,1298 L1974.7,1298 L1975.7,1298 L1976.6,1298 L1977.6,1298 L1978.6,1297.9 L1979.6,1297.9 L1980.5,1297.9 L1981.5,1297.9 L1982.5,1297.8 L1983.5,1297.8 L1984.4,1297.8 L1985.4,1297.7 L1986.4,1297.7 L1987.3,1297.7 L1988.3,1297.7 L1989.3,1297.6 L1990.3,1297.6 L1991.2,1297.6 L1992.2,1297.6 L1993.2,1297.6 L1994.2,1297.5 L1995.1,1297.5 L1996.1,1297.5 L1997.1,1297.5 L1998.1,1297.5 L1999,1297.5 L2000,1297.5 L2001,1297.5 L2002,1297.5 L2002.9,1297.5 L2003.9,1297.5 L2004.9,1297.5 L2005.9,1297.5 L2006.8,1297.5 L2007.8,1297.6 L2008.8,1297.6 L2009.8,1297.6 L2010.7,1297.6 L2011.7,1297.6 L2012.7,1297.6 L2013.7,1297.7 L2014.6,1297.7 L2015.6,1297.7 L2016.6,1297.7 L2017.6,1297.8 L2018.5,1297.8 L2019.5,1297.8 L2020.5,1297.8 L2021.5,1297.9 L2022.4,1297.9 L2023.4,1297.9 L2024.4,1297.9 L2025.4,1298 L2026.3,1298 L2027.3,1298 L2028.3,1298 L2029.3,1298 L2030.2,1298.1 L2031.2,1298.1 L2032.2,1298.1" fill="none" stroke="#000000" stroke-width="6" stroke-linejoin="bevel"/>
<text x="1509.4" y="1155.6" font-size="30" text-anchor="start" font-weight="normal" fill="#000" font-family="'Liberation Sans', Arial, Helvetica, sans-serif" >1 eq</text>
<text x="1566" y="1212" font-size="30" text-anchor="start" font-weight="normal" fill="#000" font-family="'Liberation Sans', Arial, Helvetica, sans-serif" >5 eq</text>
<text x="1631.3" y="1279" font-size="30" text-anchor="start" font-weight="normal" fill="#000" font-family="'Liberation Sans', Arial, Helvetica, sans-serif" >50 eq</text>
<text x="1632.2" y="1335" font-size="29.5" text-anchor="middle" font-weight="normal" fill="#000" font-family="'Liberation Sans', Arial, Helvetica, sans-serif" >20</text>
<text x="2031" y="1335" font-size="29.5" text-anchor="middle" font-weight="normal" fill="#000" font-family="'Liberation Sans', Arial, Helvetica, sans-serif" >25</text>
<text x="1712.5" y="1352.6" font-size="31" text-anchor="start" font-weight="normal" fill="#000" font-family="'Liberation Sans', Arial, Helvetica, sans-serif" >Elution Time (Min)</text>
<polygon points="66.3,1608.2 118.4,1682.7 103.6,1701.9 60.8,1698.6 54.2,1687.7" fill="#f1bb7b" stroke="#000" stroke-width="3.2" stroke-linejoin="round"/>
<polygon points="54.2,1687.7 60.8,1698.6 24.7,1721.9 17.8,1711" fill="#d46cb3" stroke="#000" stroke-width="3.2" stroke-linejoin="round"/>
<polygon points="118.4,1682.7 143.8,1702.7 127.9,1721.9 103.6,1701.9" fill="#699e4c" stroke="#000" stroke-width="3.2" stroke-linejoin="round"/>
<line x1="141.9" y1="1656.7" x2="193.6" y2="1656.7" stroke="#000" stroke-width="2" stroke-linecap="butt"/>
<line x1="192.6" y1="1553.8" x2="192.6" y2="1775.8" stroke="#000" stroke-width="2" stroke-linecap="butt"/>
<line x1="192.6" y1="1554.8" x2="299.7" y2="1554.8" stroke="#000" stroke-width="2" stroke-linecap="butt"/>
<polygon points="313.7,1554.8 296.7,1550.3 296.7,1559.3" fill="#000"/>
<line x1="326" y1="1554.8" x2="447.1" y2="1554.8" stroke="#000" stroke-width="2" stroke-linecap="butt"/>
<polygon points="461.1,1554.8 444.1,1550.3 444.1,1559.3" fill="#000"/>
<line x1="475.3" y1="1554.8" x2="618.4" y2="1554.8" stroke="#000" stroke-width="2" stroke-linecap="butt"/>
<polygon points="632.4,1554.8 615.4,1550.3 615.4,1559.3" fill="#000"/>
<line x1="646" y1="1554.8" x2="822.7" y2="1554.8" stroke="#000" stroke-width="2" stroke-linecap="butt"/>
<polygon points="836.7,1554.8 819.7,1550.3 819.7,1559.3" fill="#000"/>
<line x1="192.6" y1="1774.8" x2="299.7" y2="1774.8" stroke="#000" stroke-width="2" stroke-linecap="butt"/>
<polygon points="313.7,1774.8 296.7,1770.3 296.7,1779.3" fill="#000"/>
<line x1="326" y1="1774.8" x2="447.1" y2="1774.8" stroke="#000" stroke-width="2" stroke-linecap="butt"/>
<polygon points="461.1,1774.8 444.1,1770.3 444.1,1779.3" fill="#000"/>
<line x1="475.3" y1="1774.8" x2="618.4" y2="1774.8" stroke="#000" stroke-width="2" stroke-linecap="butt"/>
<polygon points="632.4,1774.8 615.4,1770.3 615.4,1779.3" fill="#000"/>
<line x1="646" y1="1774.8" x2="822.7" y2="1774.8" stroke="#000" stroke-width="2" stroke-linecap="butt"/>
<polygon points="836.7,1774.8 819.7,1770.3 819.7,1779.3" fill="#000"/>
<line x1="847.5" y1="1554.8" x2="873" y2="1554.8" stroke="#000" stroke-width="2" stroke-linecap="butt"/>
<line x1="847.5" y1="1774.8" x2="873" y2="1774.8" stroke="#000" stroke-width="2" stroke-linecap="butt"/>
<line x1="872.1" y1="1553.8" x2="872.1" y2="1775.8" stroke="#000" stroke-width="2" stroke-linecap="butt"/>
<line x1="872.1" y1="1655.9" x2="929.7" y2="1655.9" stroke="#000" stroke-width="2" stroke-linecap="butt"/>
<polygon points="943.7,1655.9 926.7,1651.4 926.7,1660.4" fill="#000"/>
<line x1="954.9" y1="1655.9" x2="1098.8" y2="1655.9" stroke="#000" stroke-width="2" stroke-linecap="butt"/>
<polygon points="1112.8,1655.9 1095.8,1651.4 1095.8,1660.4" fill="#000"/>
<text x="203.8" y="1540.8" font-size="30.3" font-family="'Liberation Sans', Arial, Helvetica, sans-serif">+ H<tspan font-size="18.5" dy="10.3">2</tspan><tspan dy="-10.3">O</tspan></text>
<text x="201.6" y="1762" font-size="30.3" font-family="'Liberation Sans', Arial, Helvetica, sans-serif">+ Cu<tspan font-size="18.5" dy="-10.3">2+</tspan></text>
<text x="393.8" y="1540.8" font-size="31.1" text-anchor="middle" font-weight="normal" fill="#000" font-family="'Liberation Sans', Arial, Helvetica, sans-serif" >Cys</text>
<text x="393.8" y="1587.1" font-size="31.1" text-anchor="middle" font-weight="normal" fill="#000" font-family="'Liberation Sans', Arial, Helvetica, sans-serif" >Labeling</text>
<text x="554.2" y="1540.8" font-size="31.1" text-anchor="middle" font-weight="normal" fill="#000" font-family="'Liberation Sans', Arial, Helvetica, sans-serif" >Trypsin</text>
<text x="554.2" y="1587.1" font-size="31.1" text-anchor="middle" font-weight="normal" fill="#000" font-family="'Liberation Sans', Arial, Helvetica, sans-serif" >Digestion</text>
<text x="740.8" y="1540.8" font-size="31.1" text-anchor="middle" font-weight="normal" fill="#000" font-family="'Liberation Sans', Arial, Helvetica, sans-serif" >Heavy isotope</text>
<text x="393.8" y="1761.1" font-size="31.1" text-anchor="middle" font-weight="normal" fill="#000" font-family="'Liberation Sans', Arial, Helvetica, sans-serif" >Cys</text>
<text x="393.8" y="1807.6" font-size="31.1" text-anchor="middle" font-weight="normal" fill="#000" font-family="'Liberation Sans', Arial, Helvetica, sans-serif" >Labeling</text>
<text x="554.2" y="1761.1" font-size="31.1" text-anchor="middle" font-weight="normal" fill="#000" font-family="'Liberation Sans', Arial, Helvetica, sans-serif" >Trypsin</text>
<text x="554.2" y="1807.6" font-size="31.1" text-anchor="middle" font-weight="normal" fill="#000" font-family="'Liberation Sans', Arial, Helvetica, sans-serif" >Digestion</text>
<text x="740.8" y="1761.1" font-size="31.1" text-anchor="middle" font-weight="normal" fill="#000" font-family="'Liberation Sans', Arial, Helvetica, sans-serif" >Light isotope</text>
<text x="740.5" y="1587.1" font-size="31.1" text-anchor="middle" font-family="'Liberation Sans', Arial, Helvetica, sans-serif">D<tspan font-size="20" dy="-12">13</tspan><tspan dy="12">CDO</tspan></text>
<text x="739.6" y="1807.6" font-size="31.1" text-anchor="middle" font-weight="normal" fill="#000" font-family="'Liberation Sans', Arial, Helvetica, sans-serif" >HCHO</text>
<text x="903.7" y="1643" font-size="31.1" text-anchor="middle" font-weight="normal" fill="#000" font-family="'Liberation Sans', Arial, Helvetica, sans-serif" >Mix</text>
<text x="1033.5" y="1643" font-size="31.1" text-anchor="middle" font-weight="normal" fill="#000" font-family="'Liberation Sans', Arial, Helvetica, sans-serif" >LC-MS/MS</text>
<line x1="1140.8" y1="1524.4" x2="2018.4" y2="1524.4" stroke="#000" stroke-width="4.4" stroke-linecap="butt"/>
<line x1="1140.8" y1="1614.1" x2="2018.4" y2="1614.1" stroke="#000" stroke-width="2.2" stroke-linecap="butt"/>
<line x1="1140.8" y1="1701.7" x2="1387.3" y2="1701.7" stroke="#000" stroke-width="2.2" stroke-linecap="butt"/>
<line x1="1140.8" y1="1791.6" x2="2018.4" y2="1791.6" stroke="#000" stroke-width="4.4" stroke-linecap="butt"/>
<text x="1264" y="1583" font-size="33" text-anchor="middle" font-weight="bold" fill="#000" font-family="'Liberation Serif', 'Times New Roman', serif" >Experiments</text>
<text x="1561.8" y="1583" font-size="33" text-anchor="middle" font-weight="bold" fill="#000" font-family="'Liberation Serif', 'Times New Roman', serif" >Identified Peptides</text>
<text x="1812.7" y="1559.9" font-size="33" text-anchor="middle" font-weight="bold" fill="#000" font-family="'Liberation Serif', 'Times New Roman', serif" >Peptide</text>
<text x="1812.7" y="1603.9" font-size="33" text-anchor="middle" font-weight="bold" fill="#000" font-family="'Liberation Serif', 'Times New Roman', serif" >Location</text>
<text x="1954.6" y="1559.9" font-size="33" text-anchor="middle" font-weight="bold" fill="#000" font-family="'Liberation Serif', 'Times New Roman', serif" >L/H</text>
<text x="1954.6" y="1603.9" font-size="33" text-anchor="middle" font-weight="bold" fill="#000" font-family="'Liberation Serif', 'Times New Roman', serif" >Ratio</text>
<text x="1263.4" y="1647.9" font-size="33.2" text-anchor="middle" font-weight="normal" fill="#000" font-family="'Liberation Serif', 'Times New Roman', serif" >Npl4-Cu-L <tspan font-style="italic">vs.</tspan></text>
<text x="1263.8" y="1691" font-size="33.2" text-anchor="middle" font-weight="normal" fill="#000" font-family="'Liberation Serif', 'Times New Roman', serif" >Npl4-Cu-H</text>
<text x="1263.4" y="1736" font-size="33.2" text-anchor="middle" font-weight="normal" fill="#000" font-family="'Liberation Serif', 'Times New Roman', serif" >Npl4-Cu-L <tspan font-style="italic">vs.</tspan></text>
<text x="1263.8" y="1779" font-size="33.2" text-anchor="middle" font-weight="normal" fill="#000" font-family="'Liberation Serif', 'Times New Roman', serif" >Npl4-H<tspan font-size="22" dy="0">2</tspan>O-H</text>
<text x="1404.5" y="1647.9" font-size="33.0" text-anchor="start" font-weight="normal" fill="#000" font-family="'Liberation Mono', 'Courier New', monospace" >SRDPQL<tspan fill="#ee1111">C</tspan>R</text>
<text x="1404.5" y="1691" font-size="33.0" text-anchor="start" font-weight="normal" fill="#000" font-family="'Liberation Mono', 'Courier New', monospace" >SG<tspan fill="#ee1111">C</tspan>EGHLPWPNGICTK</text>
<text x="1404.5" y="1736" font-size="33.0" text-anchor="start" font-weight="normal" fill="#000" font-family="'Liberation Mono', 'Courier New', monospace" >SRDPQL<tspan fill="#ee1111">C</tspan>R</text>
<text x="1404.5" y="1779" font-size="33.0" text-anchor="start" font-weight="normal" fill="#000" font-family="'Liberation Mono', 'Courier New', monospace" >SG<tspan fill="#ee1111">C</tspan>EGHLPWPNGICTK</text>
<text x="1811.2" y="1647.9" font-size="33.2" text-anchor="middle" font-weight="normal" fill="#e07af5" font-family="'Liberation Serif', 'Times New Roman', serif" >ZnF1</text>
<text x="1811.7" y="1691" font-size="33.2" text-anchor="middle" font-weight="normal" fill="#138a13" font-family="'Liberation Serif', 'Times New Roman', serif" >ZnF2</text>
<text x="1811.2" y="1736" font-size="33.2" text-anchor="middle" font-weight="normal" fill="#e07af5" font-family="'Liberation Serif', 'Times New Roman', serif" >ZnF1</text>
<text x="1811.7" y="1779" font-size="33.2" text-anchor="middle" font-weight="normal" fill="#138a13" font-family="'Liberation Serif', 'Times New Roman', serif" >ZnF2</text>
<text x="1955" y="1647.9" font-size="33.2" text-anchor="middle" font-weight="normal" fill="#000" font-family="'Liberation Serif', 'Times New Roman', serif" >1.10</text>
<text x="1955" y="1691" font-size="33.2" text-anchor="middle" font-weight="normal" fill="#000" font-family="'Liberation Serif', 'Times New Roman', serif" >0.99</text>
<text x="1955" y="1736" font-size="33.2" text-anchor="middle" font-weight="normal" fill="#000" font-family="'Liberation Serif', 'Times New Roman', serif" >0.41</text>
<text x="1955" y="1779" font-size="33.2" text-anchor="middle" font-weight="normal" fill="#000" font-family="'Liberation Serif', 'Times New Roman', serif" >0.39</text>
</svg></body></html>
